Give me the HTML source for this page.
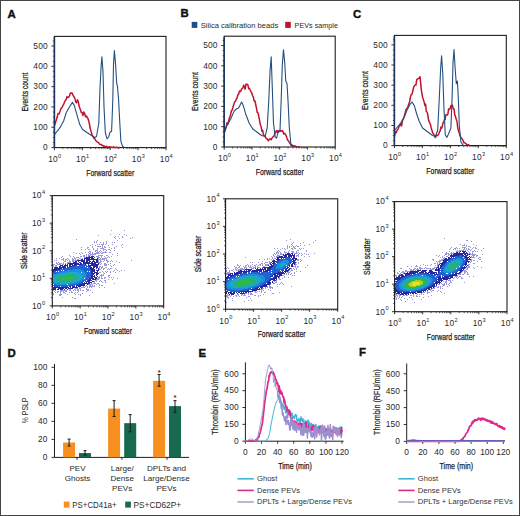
<!DOCTYPE html>
<html><head><meta charset="utf-8"><style>
html,body{margin:0;padding:0;background:#fff;}
svg{display:block;font-family:"Liberation Sans", sans-serif;}
</style></head><body>
<svg width="520" height="516" viewBox="0 0 520 516">
<defs><filter id="sb" x="-5%" y="-5%" width="110%" height="110%"><feGaussianBlur stdDeviation="0.35"/></filter></defs>
<rect width="520" height="516" fill="#fff"/>
<rect x="0.5" y="0.5" width="519" height="515" fill="none" stroke="#444" stroke-width="1"/>
<text x="7.4" y="17.5" font-size="11.4" font-weight="bold" fill="#111" stroke="#111" stroke-width="0.4">A</text>
<text x="180.6" y="17.4" font-size="11.4" font-weight="bold" fill="#111" stroke="#111" stroke-width="0.4">B</text>
<text x="353" y="17.5" font-size="11.4" font-weight="bold" fill="#111" stroke="#111" stroke-width="0.4">C</text>
<text x="7.6" y="356.6" font-size="11.4" font-weight="bold" fill="#111" stroke="#111" stroke-width="0.4">D</text>
<text x="198.5" y="356.5" font-size="11.4" font-weight="bold" fill="#111" stroke="#111" stroke-width="0.4">E</text>
<text x="359.1" y="356.3" font-size="11.4" font-weight="bold" fill="#111" stroke="#111" stroke-width="0.4">F</text>
<rect x="191.7" y="21.9" width="5.6" height="6" fill="#1b4f8a"/>
<text x="200.8" y="28.1" font-size="7.65" textLength="77.4" lengthAdjust="spacingAndGlyphs" fill="#2a2a2a">Silica calibration beads</text>
<rect x="285.2" y="21.9" width="5.6" height="6" fill="#c8102e"/>
<text x="294.6" y="28.1" font-size="7.65" textLength="43.4" lengthAdjust="spacingAndGlyphs" fill="#2a2a2a">PEVs sample</text>
<rect x="54.4" y="36.4" width="111.6" height="111.2" fill="none" stroke="#1e1e1e" stroke-width="1.1"/>
<line x1="51.4" y1="147.6" x2="54.4" y2="147.6" stroke="#1e1e1e" stroke-width="0.9"/>
<text x="47.8" y="150.4" font-size="8.4" text-anchor="end" fill="#2a2a2a" letter-spacing="0.15">0</text>
<line x1="52.8" y1="142.52" x2="54.4" y2="142.52" stroke="#1e1e1e" stroke-width="0.7"/>
<line x1="52.8" y1="137.44" x2="54.4" y2="137.44" stroke="#1e1e1e" stroke-width="0.7"/>
<line x1="52.8" y1="132.36" x2="54.4" y2="132.36" stroke="#1e1e1e" stroke-width="0.7"/>
<line x1="51.4" y1="127.28" x2="54.4" y2="127.28" stroke="#1e1e1e" stroke-width="0.9"/>
<text x="47.8" y="130.08" font-size="8.4" text-anchor="end" fill="#2a2a2a" letter-spacing="0.15">100</text>
<line x1="52.8" y1="122.2" x2="54.4" y2="122.2" stroke="#1e1e1e" stroke-width="0.7"/>
<line x1="52.8" y1="117.12" x2="54.4" y2="117.12" stroke="#1e1e1e" stroke-width="0.7"/>
<line x1="52.8" y1="112.04" x2="54.4" y2="112.04" stroke="#1e1e1e" stroke-width="0.7"/>
<line x1="51.4" y1="106.96" x2="54.4" y2="106.96" stroke="#1e1e1e" stroke-width="0.9"/>
<text x="47.8" y="109.76" font-size="8.4" text-anchor="end" fill="#2a2a2a" letter-spacing="0.15">200</text>
<line x1="52.8" y1="101.88" x2="54.4" y2="101.88" stroke="#1e1e1e" stroke-width="0.7"/>
<line x1="52.8" y1="96.8" x2="54.4" y2="96.8" stroke="#1e1e1e" stroke-width="0.7"/>
<line x1="52.8" y1="91.72" x2="54.4" y2="91.72" stroke="#1e1e1e" stroke-width="0.7"/>
<line x1="51.4" y1="86.64" x2="54.4" y2="86.64" stroke="#1e1e1e" stroke-width="0.9"/>
<text x="47.8" y="89.44" font-size="8.4" text-anchor="end" fill="#2a2a2a" letter-spacing="0.15">300</text>
<line x1="52.8" y1="81.56" x2="54.4" y2="81.56" stroke="#1e1e1e" stroke-width="0.7"/>
<line x1="52.8" y1="76.48" x2="54.4" y2="76.48" stroke="#1e1e1e" stroke-width="0.7"/>
<line x1="52.8" y1="71.4" x2="54.4" y2="71.4" stroke="#1e1e1e" stroke-width="0.7"/>
<line x1="51.4" y1="66.32" x2="54.4" y2="66.32" stroke="#1e1e1e" stroke-width="0.9"/>
<text x="47.8" y="69.12" font-size="8.4" text-anchor="end" fill="#2a2a2a" letter-spacing="0.15">400</text>
<line x1="52.8" y1="61.24" x2="54.4" y2="61.24" stroke="#1e1e1e" stroke-width="0.7"/>
<line x1="52.8" y1="56.16" x2="54.4" y2="56.16" stroke="#1e1e1e" stroke-width="0.7"/>
<line x1="52.8" y1="51.08" x2="54.4" y2="51.08" stroke="#1e1e1e" stroke-width="0.7"/>
<line x1="51.4" y1="46" x2="54.4" y2="46" stroke="#1e1e1e" stroke-width="0.9"/>
<text x="47.8" y="48.8" font-size="8.4" text-anchor="end" fill="#2a2a2a" letter-spacing="0.15">500</text>
<line x1="52.8" y1="40.92" x2="54.4" y2="40.92" stroke="#1e1e1e" stroke-width="0.7"/>
<line x1="54.4" y1="147.6" x2="54.4" y2="150.2" stroke="#1e1e1e" stroke-width="0.9"/>
<line x1="62.8" y1="147.6" x2="62.8" y2="149.1" stroke="#1e1e1e" stroke-width="0.7"/>
<line x1="67.71" y1="147.6" x2="67.71" y2="149.1" stroke="#1e1e1e" stroke-width="0.7"/>
<line x1="71.2" y1="147.6" x2="71.2" y2="149.1" stroke="#1e1e1e" stroke-width="0.7"/>
<line x1="73.9" y1="147.6" x2="73.9" y2="149.1" stroke="#1e1e1e" stroke-width="0.7"/>
<line x1="76.11" y1="147.6" x2="76.11" y2="149.1" stroke="#1e1e1e" stroke-width="0.7"/>
<line x1="77.98" y1="147.6" x2="77.98" y2="149.1" stroke="#1e1e1e" stroke-width="0.7"/>
<line x1="79.6" y1="147.6" x2="79.6" y2="149.1" stroke="#1e1e1e" stroke-width="0.7"/>
<line x1="81.02" y1="147.6" x2="81.02" y2="149.1" stroke="#1e1e1e" stroke-width="0.7"/>
<text x="53.1" y="161.9" font-size="8.4" text-anchor="middle" fill="#2a2a2a" letter-spacing="0.3">10</text>
<text x="58" y="157.6" font-size="5.6" fill="#2a2a2a">0</text>
<line x1="82.3" y1="147.6" x2="82.3" y2="150.2" stroke="#1e1e1e" stroke-width="0.9"/>
<line x1="90.7" y1="147.6" x2="90.7" y2="149.1" stroke="#1e1e1e" stroke-width="0.7"/>
<line x1="95.61" y1="147.6" x2="95.61" y2="149.1" stroke="#1e1e1e" stroke-width="0.7"/>
<line x1="99.1" y1="147.6" x2="99.1" y2="149.1" stroke="#1e1e1e" stroke-width="0.7"/>
<line x1="101.8" y1="147.6" x2="101.8" y2="149.1" stroke="#1e1e1e" stroke-width="0.7"/>
<line x1="104.01" y1="147.6" x2="104.01" y2="149.1" stroke="#1e1e1e" stroke-width="0.7"/>
<line x1="105.88" y1="147.6" x2="105.88" y2="149.1" stroke="#1e1e1e" stroke-width="0.7"/>
<line x1="107.5" y1="147.6" x2="107.5" y2="149.1" stroke="#1e1e1e" stroke-width="0.7"/>
<line x1="108.92" y1="147.6" x2="108.92" y2="149.1" stroke="#1e1e1e" stroke-width="0.7"/>
<text x="81" y="161.9" font-size="8.4" text-anchor="middle" fill="#2a2a2a" letter-spacing="0.3">10</text>
<text x="85.9" y="157.6" font-size="5.6" fill="#2a2a2a">1</text>
<line x1="110.2" y1="147.6" x2="110.2" y2="150.2" stroke="#1e1e1e" stroke-width="0.9"/>
<line x1="118.6" y1="147.6" x2="118.6" y2="149.1" stroke="#1e1e1e" stroke-width="0.7"/>
<line x1="123.51" y1="147.6" x2="123.51" y2="149.1" stroke="#1e1e1e" stroke-width="0.7"/>
<line x1="127" y1="147.6" x2="127" y2="149.1" stroke="#1e1e1e" stroke-width="0.7"/>
<line x1="129.7" y1="147.6" x2="129.7" y2="149.1" stroke="#1e1e1e" stroke-width="0.7"/>
<line x1="131.91" y1="147.6" x2="131.91" y2="149.1" stroke="#1e1e1e" stroke-width="0.7"/>
<line x1="133.78" y1="147.6" x2="133.78" y2="149.1" stroke="#1e1e1e" stroke-width="0.7"/>
<line x1="135.4" y1="147.6" x2="135.4" y2="149.1" stroke="#1e1e1e" stroke-width="0.7"/>
<line x1="136.82" y1="147.6" x2="136.82" y2="149.1" stroke="#1e1e1e" stroke-width="0.7"/>
<text x="108.9" y="161.9" font-size="8.4" text-anchor="middle" fill="#2a2a2a" letter-spacing="0.3">10</text>
<text x="113.8" y="157.6" font-size="5.6" fill="#2a2a2a">2</text>
<line x1="138.1" y1="147.6" x2="138.1" y2="150.2" stroke="#1e1e1e" stroke-width="0.9"/>
<line x1="146.5" y1="147.6" x2="146.5" y2="149.1" stroke="#1e1e1e" stroke-width="0.7"/>
<line x1="151.41" y1="147.6" x2="151.41" y2="149.1" stroke="#1e1e1e" stroke-width="0.7"/>
<line x1="154.9" y1="147.6" x2="154.9" y2="149.1" stroke="#1e1e1e" stroke-width="0.7"/>
<line x1="157.6" y1="147.6" x2="157.6" y2="149.1" stroke="#1e1e1e" stroke-width="0.7"/>
<line x1="159.81" y1="147.6" x2="159.81" y2="149.1" stroke="#1e1e1e" stroke-width="0.7"/>
<line x1="161.68" y1="147.6" x2="161.68" y2="149.1" stroke="#1e1e1e" stroke-width="0.7"/>
<line x1="163.3" y1="147.6" x2="163.3" y2="149.1" stroke="#1e1e1e" stroke-width="0.7"/>
<line x1="164.72" y1="147.6" x2="164.72" y2="149.1" stroke="#1e1e1e" stroke-width="0.7"/>
<text x="136.8" y="161.9" font-size="8.4" text-anchor="middle" fill="#2a2a2a" letter-spacing="0.3">10</text>
<text x="141.7" y="157.6" font-size="5.6" fill="#2a2a2a">3</text>
<line x1="166" y1="147.6" x2="166" y2="150.2" stroke="#1e1e1e" stroke-width="0.9"/>
<text x="164.7" y="161.9" font-size="8.4" text-anchor="middle" fill="#2a2a2a" letter-spacing="0.3">10</text>
<text x="169.6" y="157.6" font-size="5.6" fill="#2a2a2a">4</text>
<text x="110.2" y="175.8" font-size="9.4" text-anchor="middle" textLength="48" lengthAdjust="spacingAndGlyphs" fill="#222" stroke="#222" stroke-width="0.25">Forward scatter</text>
<text transform="translate(27.9,92) rotate(-90)" font-size="9.4" text-anchor="middle" textLength="39" lengthAdjust="spacingAndGlyphs" fill="#222" stroke="#222" stroke-width="0.25">Events count</text>
<polyline points="54.6,125.33 56,120.85 57,117.86 58,113.55 59,114.03 60,111.52 61,108.36 62,107.71 63,105.45 64,103.37 65,101.04 66,99.72 67,96.62 67.75,97.58 68.5,97.36 69.5,95.81 70.4,92.95 71.2,93.05 72,92.93 73,95.15 74,97.01 74.83,98.14 75.67,101.69 76.5,102.8 77.5,99.82 78.5,102.65 79.25,106.79 80,108.5 81.2,112.25 82.1,112.75 83,115.42 83.75,111.98 84.5,113.07 85.55,116.69 86.6,116.02 87.3,117.87 88,118.46 89.3,123.21 90,127.55 90.7,130.09 92,134.67 93,136.56 94,138.45 95.05,139.14 96.1,140.94 96.88,141.66 97.66,142.22 98.44,142.52 99.22,143.71 100,144.45 100.72,144.57 101.43,144.45 102.15,145.58 102.87,145.45 103.58,146.43 104.3,146.11 105.01,146.92 105.72,146.67 106.44,146.33 107.15,146.74 107.86,146.96 108.58,147.11 109.29,146.81 110,146.87 110.71,147.28 111.43,147.1 112.14,147.33 112.86,147.51 113.57,146.83 114.29,147.4 115,147.69 115.71,147.29 116.43,147.17 117.14,147.62 117.86,147.5 118.57,147.69 119.29,147.39 120,147.5" fill="none" stroke="#c0142e" stroke-width="1.5" stroke-linejoin="round"/>
<polyline points="54.6,134.3 58.1,130.2 60.9,126.1 63.6,121 66.3,112.5 69,107.8 72.4,102.4 74.4,105.8 77.1,115.3 79.9,124.8 82.6,129.5 86.6,132.2 90.7,135 94.8,137.5 96.5,136.5 98.8,123 100,88 101.2,64.9 101.9,56.7 103,71.9 104,106.7 105.3,132.3 107,138.8 108.6,137 110,132.3 111.6,131.2 112.8,99.8 113.5,64.9 114.4,50.5 115.6,64.9 116.7,83.5 117.4,85.8 118.6,99.8 119.8,123 120.9,141.6 122.6,146.3 124,147.4" fill="none" stroke="#24507f" stroke-width="1.1" stroke-linejoin="round"/>
<line x1="54.4" y1="37" x2="54.4" y2="147.6" stroke="#1c3560" stroke-width="1.6"/>
<rect x="224.2" y="36.2" width="111" height="110.8" fill="none" stroke="#1e1e1e" stroke-width="1.1"/>
<line x1="221.2" y1="147" x2="224.2" y2="147" stroke="#1e1e1e" stroke-width="0.9"/>
<text x="217.6" y="149.8" font-size="8.4" text-anchor="end" fill="#2a2a2a" letter-spacing="0.15">0</text>
<line x1="222.6" y1="141.93" x2="224.2" y2="141.93" stroke="#1e1e1e" stroke-width="0.7"/>
<line x1="222.6" y1="136.85" x2="224.2" y2="136.85" stroke="#1e1e1e" stroke-width="0.7"/>
<line x1="222.6" y1="131.78" x2="224.2" y2="131.78" stroke="#1e1e1e" stroke-width="0.7"/>
<line x1="221.2" y1="126.7" x2="224.2" y2="126.7" stroke="#1e1e1e" stroke-width="0.9"/>
<text x="217.6" y="129.5" font-size="8.4" text-anchor="end" fill="#2a2a2a" letter-spacing="0.15">100</text>
<line x1="222.6" y1="121.62" x2="224.2" y2="121.62" stroke="#1e1e1e" stroke-width="0.7"/>
<line x1="222.6" y1="116.55" x2="224.2" y2="116.55" stroke="#1e1e1e" stroke-width="0.7"/>
<line x1="222.6" y1="111.47" x2="224.2" y2="111.47" stroke="#1e1e1e" stroke-width="0.7"/>
<line x1="221.2" y1="106.4" x2="224.2" y2="106.4" stroke="#1e1e1e" stroke-width="0.9"/>
<text x="217.6" y="109.2" font-size="8.4" text-anchor="end" fill="#2a2a2a" letter-spacing="0.15">200</text>
<line x1="222.6" y1="101.32" x2="224.2" y2="101.32" stroke="#1e1e1e" stroke-width="0.7"/>
<line x1="222.6" y1="96.25" x2="224.2" y2="96.25" stroke="#1e1e1e" stroke-width="0.7"/>
<line x1="222.6" y1="91.17" x2="224.2" y2="91.17" stroke="#1e1e1e" stroke-width="0.7"/>
<line x1="221.2" y1="86.1" x2="224.2" y2="86.1" stroke="#1e1e1e" stroke-width="0.9"/>
<text x="217.6" y="88.9" font-size="8.4" text-anchor="end" fill="#2a2a2a" letter-spacing="0.15">300</text>
<line x1="222.6" y1="81.02" x2="224.2" y2="81.02" stroke="#1e1e1e" stroke-width="0.7"/>
<line x1="222.6" y1="75.95" x2="224.2" y2="75.95" stroke="#1e1e1e" stroke-width="0.7"/>
<line x1="222.6" y1="70.88" x2="224.2" y2="70.88" stroke="#1e1e1e" stroke-width="0.7"/>
<line x1="221.2" y1="65.8" x2="224.2" y2="65.8" stroke="#1e1e1e" stroke-width="0.9"/>
<text x="217.6" y="68.6" font-size="8.4" text-anchor="end" fill="#2a2a2a" letter-spacing="0.15">400</text>
<line x1="222.6" y1="60.72" x2="224.2" y2="60.72" stroke="#1e1e1e" stroke-width="0.7"/>
<line x1="222.6" y1="55.65" x2="224.2" y2="55.65" stroke="#1e1e1e" stroke-width="0.7"/>
<line x1="222.6" y1="50.57" x2="224.2" y2="50.57" stroke="#1e1e1e" stroke-width="0.7"/>
<line x1="221.2" y1="45.5" x2="224.2" y2="45.5" stroke="#1e1e1e" stroke-width="0.9"/>
<text x="217.6" y="48.3" font-size="8.4" text-anchor="end" fill="#2a2a2a" letter-spacing="0.15">500</text>
<line x1="222.6" y1="40.42" x2="224.2" y2="40.42" stroke="#1e1e1e" stroke-width="0.7"/>
<line x1="224.2" y1="147" x2="224.2" y2="149.6" stroke="#1e1e1e" stroke-width="0.9"/>
<line x1="232.55" y1="147" x2="232.55" y2="148.5" stroke="#1e1e1e" stroke-width="0.7"/>
<line x1="237.44" y1="147" x2="237.44" y2="148.5" stroke="#1e1e1e" stroke-width="0.7"/>
<line x1="240.91" y1="147" x2="240.91" y2="148.5" stroke="#1e1e1e" stroke-width="0.7"/>
<line x1="243.6" y1="147" x2="243.6" y2="148.5" stroke="#1e1e1e" stroke-width="0.7"/>
<line x1="245.79" y1="147" x2="245.79" y2="148.5" stroke="#1e1e1e" stroke-width="0.7"/>
<line x1="247.65" y1="147" x2="247.65" y2="148.5" stroke="#1e1e1e" stroke-width="0.7"/>
<line x1="249.26" y1="147" x2="249.26" y2="148.5" stroke="#1e1e1e" stroke-width="0.7"/>
<line x1="250.68" y1="147" x2="250.68" y2="148.5" stroke="#1e1e1e" stroke-width="0.7"/>
<text x="222.9" y="161.3" font-size="8.4" text-anchor="middle" fill="#2a2a2a" letter-spacing="0.3">10</text>
<text x="227.8" y="157" font-size="5.6" fill="#2a2a2a">0</text>
<line x1="251.95" y1="147" x2="251.95" y2="149.6" stroke="#1e1e1e" stroke-width="0.9"/>
<line x1="260.3" y1="147" x2="260.3" y2="148.5" stroke="#1e1e1e" stroke-width="0.7"/>
<line x1="265.19" y1="147" x2="265.19" y2="148.5" stroke="#1e1e1e" stroke-width="0.7"/>
<line x1="268.66" y1="147" x2="268.66" y2="148.5" stroke="#1e1e1e" stroke-width="0.7"/>
<line x1="271.35" y1="147" x2="271.35" y2="148.5" stroke="#1e1e1e" stroke-width="0.7"/>
<line x1="273.54" y1="147" x2="273.54" y2="148.5" stroke="#1e1e1e" stroke-width="0.7"/>
<line x1="275.4" y1="147" x2="275.4" y2="148.5" stroke="#1e1e1e" stroke-width="0.7"/>
<line x1="277.01" y1="147" x2="277.01" y2="148.5" stroke="#1e1e1e" stroke-width="0.7"/>
<line x1="278.43" y1="147" x2="278.43" y2="148.5" stroke="#1e1e1e" stroke-width="0.7"/>
<text x="250.65" y="161.3" font-size="8.4" text-anchor="middle" fill="#2a2a2a" letter-spacing="0.3">10</text>
<text x="255.55" y="157" font-size="5.6" fill="#2a2a2a">1</text>
<line x1="279.7" y1="147" x2="279.7" y2="149.6" stroke="#1e1e1e" stroke-width="0.9"/>
<line x1="288.05" y1="147" x2="288.05" y2="148.5" stroke="#1e1e1e" stroke-width="0.7"/>
<line x1="292.94" y1="147" x2="292.94" y2="148.5" stroke="#1e1e1e" stroke-width="0.7"/>
<line x1="296.41" y1="147" x2="296.41" y2="148.5" stroke="#1e1e1e" stroke-width="0.7"/>
<line x1="299.1" y1="147" x2="299.1" y2="148.5" stroke="#1e1e1e" stroke-width="0.7"/>
<line x1="301.29" y1="147" x2="301.29" y2="148.5" stroke="#1e1e1e" stroke-width="0.7"/>
<line x1="303.15" y1="147" x2="303.15" y2="148.5" stroke="#1e1e1e" stroke-width="0.7"/>
<line x1="304.76" y1="147" x2="304.76" y2="148.5" stroke="#1e1e1e" stroke-width="0.7"/>
<line x1="306.18" y1="147" x2="306.18" y2="148.5" stroke="#1e1e1e" stroke-width="0.7"/>
<text x="278.4" y="161.3" font-size="8.4" text-anchor="middle" fill="#2a2a2a" letter-spacing="0.3">10</text>
<text x="283.3" y="157" font-size="5.6" fill="#2a2a2a">2</text>
<line x1="307.45" y1="147" x2="307.45" y2="149.6" stroke="#1e1e1e" stroke-width="0.9"/>
<line x1="315.8" y1="147" x2="315.8" y2="148.5" stroke="#1e1e1e" stroke-width="0.7"/>
<line x1="320.69" y1="147" x2="320.69" y2="148.5" stroke="#1e1e1e" stroke-width="0.7"/>
<line x1="324.16" y1="147" x2="324.16" y2="148.5" stroke="#1e1e1e" stroke-width="0.7"/>
<line x1="326.85" y1="147" x2="326.85" y2="148.5" stroke="#1e1e1e" stroke-width="0.7"/>
<line x1="329.04" y1="147" x2="329.04" y2="148.5" stroke="#1e1e1e" stroke-width="0.7"/>
<line x1="330.9" y1="147" x2="330.9" y2="148.5" stroke="#1e1e1e" stroke-width="0.7"/>
<line x1="332.51" y1="147" x2="332.51" y2="148.5" stroke="#1e1e1e" stroke-width="0.7"/>
<line x1="333.93" y1="147" x2="333.93" y2="148.5" stroke="#1e1e1e" stroke-width="0.7"/>
<text x="306.15" y="161.3" font-size="8.4" text-anchor="middle" fill="#2a2a2a" letter-spacing="0.3">10</text>
<text x="311.05" y="157" font-size="5.6" fill="#2a2a2a">3</text>
<line x1="335.2" y1="147" x2="335.2" y2="149.6" stroke="#1e1e1e" stroke-width="0.9"/>
<text x="333.9" y="161.3" font-size="8.4" text-anchor="middle" fill="#2a2a2a" letter-spacing="0.3">10</text>
<text x="338.8" y="157" font-size="5.6" fill="#2a2a2a">4</text>
<text x="279.7" y="175.2" font-size="9.4" text-anchor="middle" textLength="48" lengthAdjust="spacingAndGlyphs" fill="#222" stroke="#222" stroke-width="0.25">Forward scatter</text>
<text transform="translate(197.7,91.6) rotate(-90)" font-size="9.4" text-anchor="middle" textLength="39" lengthAdjust="spacingAndGlyphs" fill="#222" stroke="#222" stroke-width="0.25">Events count</text>
<polyline points="224.4,132.45 225.27,129.42 226.13,127.06 227,122.68 227.77,124.58 228.53,121.77 229.3,118.06 230.03,116.78 230.77,113.78 231.5,110.36 232.33,109.96 233.17,106.22 234,103.99 234.77,101.6 235.53,101.39 236.3,98.87 237.07,98.06 237.83,94.85 238.6,94.17 239.55,91.02 240.5,91.68 241.3,89.57 242.1,88.57 242.87,87.92 243.63,85.11 244.4,86.94 245.2,89.13 246,84.13 246.95,84.26 247.9,84.83 248.67,88.71 249.43,88.18 250.2,90.04 251,91.71 251.8,93.19 252.6,95.48 253.37,97.21 254.13,100.9 254.9,100.66 255.67,104.28 256.43,107.79 257.2,112.31 257.97,112.84 258.73,116.04 259.5,120.13 260.3,124.74 261.1,126.68 261.9,131.14 262.67,130.4 263.43,134.75 264.2,136.56 264.9,135.48 265.6,137.31 266.3,138.73 267,138.66 267.7,139.94 268.4,140.83 269.1,139.48 269.8,139.12 270.5,138.8 271.2,139.72 271.9,138.25 272.6,137.34 273.3,136.46 274,136.1 274.7,133.89 275.55,132.45 276.4,130.64 277.25,132.54 278.1,130.56 278.8,131.92 279.5,130.77 280.2,130.3 280.9,131.46 281.6,131.14 282.3,130.62 283,131.4 283.7,134.01 284.4,133.32 285.1,133.83 285.87,135.23 286.63,136.89 287.4,139.87 288.1,140.4 288.8,141.19 289.5,142.71 290.2,143.51 290.9,145.18 291.62,145.76 292.35,145.17 293.07,146.25 293.8,145.65 294.52,146.15 295.25,146.02 295.97,146.43 296.7,146.71 297.52,146.66 298.35,146.67 299.18,146.76 300,147" fill="none" stroke="#c0142e" stroke-width="1.5" stroke-linejoin="round"/>
<polyline points="224.4,132.3 227,125.3 230.5,119.5 234,111.4 236.3,109 238.6,107.9 241.6,102.1 243.3,105.6 245.6,113.7 249.1,123 252.6,128.8 257.2,132.3 261.9,135.8 265.3,135.8 267.2,127.7 268.8,99.8 270,71.9 271.2,56.7 272.3,88.1 273.5,123 275.1,137 276.5,138.1 278.1,132.3 280,130.5 281.2,99.8 282.3,64.9 283.5,49.8 284.7,62.6 285.8,81.2 287,83.5 288.1,102.1 289.3,127.7 290.9,144 293.3,146.3 295,147" fill="none" stroke="#24507f" stroke-width="1.1" stroke-linejoin="round"/>
<line x1="224.2" y1="37" x2="224.2" y2="147" stroke="#1c3560" stroke-width="1.6"/>
<rect x="394.4" y="35.4" width="111.9" height="110.2" fill="none" stroke="#1e1e1e" stroke-width="1.1"/>
<line x1="391.4" y1="145.6" x2="394.4" y2="145.6" stroke="#1e1e1e" stroke-width="0.9"/>
<text x="387.8" y="148.4" font-size="8.4" text-anchor="end" fill="#2a2a2a" letter-spacing="0.15">0</text>
<line x1="392.8" y1="140.56" x2="394.4" y2="140.56" stroke="#1e1e1e" stroke-width="0.7"/>
<line x1="392.8" y1="135.53" x2="394.4" y2="135.53" stroke="#1e1e1e" stroke-width="0.7"/>
<line x1="392.8" y1="130.5" x2="394.4" y2="130.5" stroke="#1e1e1e" stroke-width="0.7"/>
<line x1="391.4" y1="125.46" x2="394.4" y2="125.46" stroke="#1e1e1e" stroke-width="0.9"/>
<text x="387.8" y="128.26" font-size="8.4" text-anchor="end" fill="#2a2a2a" letter-spacing="0.15">100</text>
<line x1="392.8" y1="120.42" x2="394.4" y2="120.42" stroke="#1e1e1e" stroke-width="0.7"/>
<line x1="392.8" y1="115.39" x2="394.4" y2="115.39" stroke="#1e1e1e" stroke-width="0.7"/>
<line x1="392.8" y1="110.35" x2="394.4" y2="110.35" stroke="#1e1e1e" stroke-width="0.7"/>
<line x1="391.4" y1="105.32" x2="394.4" y2="105.32" stroke="#1e1e1e" stroke-width="0.9"/>
<text x="387.8" y="108.12" font-size="8.4" text-anchor="end" fill="#2a2a2a" letter-spacing="0.15">200</text>
<line x1="392.8" y1="100.28" x2="394.4" y2="100.28" stroke="#1e1e1e" stroke-width="0.7"/>
<line x1="392.8" y1="95.25" x2="394.4" y2="95.25" stroke="#1e1e1e" stroke-width="0.7"/>
<line x1="392.8" y1="90.22" x2="394.4" y2="90.22" stroke="#1e1e1e" stroke-width="0.7"/>
<line x1="391.4" y1="85.18" x2="394.4" y2="85.18" stroke="#1e1e1e" stroke-width="0.9"/>
<text x="387.8" y="87.98" font-size="8.4" text-anchor="end" fill="#2a2a2a" letter-spacing="0.15">300</text>
<line x1="392.8" y1="80.15" x2="394.4" y2="80.15" stroke="#1e1e1e" stroke-width="0.7"/>
<line x1="392.8" y1="75.11" x2="394.4" y2="75.11" stroke="#1e1e1e" stroke-width="0.7"/>
<line x1="392.8" y1="70.08" x2="394.4" y2="70.08" stroke="#1e1e1e" stroke-width="0.7"/>
<line x1="391.4" y1="65.04" x2="394.4" y2="65.04" stroke="#1e1e1e" stroke-width="0.9"/>
<text x="387.8" y="67.84" font-size="8.4" text-anchor="end" fill="#2a2a2a" letter-spacing="0.15">400</text>
<line x1="392.8" y1="60.01" x2="394.4" y2="60.01" stroke="#1e1e1e" stroke-width="0.7"/>
<line x1="392.8" y1="54.97" x2="394.4" y2="54.97" stroke="#1e1e1e" stroke-width="0.7"/>
<line x1="392.8" y1="49.94" x2="394.4" y2="49.94" stroke="#1e1e1e" stroke-width="0.7"/>
<line x1="391.4" y1="44.9" x2="394.4" y2="44.9" stroke="#1e1e1e" stroke-width="0.9"/>
<text x="387.8" y="47.7" font-size="8.4" text-anchor="end" fill="#2a2a2a" letter-spacing="0.15">500</text>
<line x1="392.8" y1="39.87" x2="394.4" y2="39.87" stroke="#1e1e1e" stroke-width="0.7"/>
<line x1="394.4" y1="145.6" x2="394.4" y2="148.2" stroke="#1e1e1e" stroke-width="0.9"/>
<line x1="402.82" y1="145.6" x2="402.82" y2="147.1" stroke="#1e1e1e" stroke-width="0.7"/>
<line x1="407.75" y1="145.6" x2="407.75" y2="147.1" stroke="#1e1e1e" stroke-width="0.7"/>
<line x1="411.24" y1="145.6" x2="411.24" y2="147.1" stroke="#1e1e1e" stroke-width="0.7"/>
<line x1="413.95" y1="145.6" x2="413.95" y2="147.1" stroke="#1e1e1e" stroke-width="0.7"/>
<line x1="416.17" y1="145.6" x2="416.17" y2="147.1" stroke="#1e1e1e" stroke-width="0.7"/>
<line x1="418.04" y1="145.6" x2="418.04" y2="147.1" stroke="#1e1e1e" stroke-width="0.7"/>
<line x1="419.66" y1="145.6" x2="419.66" y2="147.1" stroke="#1e1e1e" stroke-width="0.7"/>
<line x1="421.09" y1="145.6" x2="421.09" y2="147.1" stroke="#1e1e1e" stroke-width="0.7"/>
<text x="393.1" y="159.9" font-size="8.4" text-anchor="middle" fill="#2a2a2a" letter-spacing="0.3">10</text>
<text x="398" y="155.6" font-size="5.6" fill="#2a2a2a">0</text>
<line x1="422.38" y1="145.6" x2="422.38" y2="148.2" stroke="#1e1e1e" stroke-width="0.9"/>
<line x1="430.8" y1="145.6" x2="430.8" y2="147.1" stroke="#1e1e1e" stroke-width="0.7"/>
<line x1="435.72" y1="145.6" x2="435.72" y2="147.1" stroke="#1e1e1e" stroke-width="0.7"/>
<line x1="439.22" y1="145.6" x2="439.22" y2="147.1" stroke="#1e1e1e" stroke-width="0.7"/>
<line x1="441.93" y1="145.6" x2="441.93" y2="147.1" stroke="#1e1e1e" stroke-width="0.7"/>
<line x1="444.14" y1="145.6" x2="444.14" y2="147.1" stroke="#1e1e1e" stroke-width="0.7"/>
<line x1="446.02" y1="145.6" x2="446.02" y2="147.1" stroke="#1e1e1e" stroke-width="0.7"/>
<line x1="447.64" y1="145.6" x2="447.64" y2="147.1" stroke="#1e1e1e" stroke-width="0.7"/>
<line x1="449.07" y1="145.6" x2="449.07" y2="147.1" stroke="#1e1e1e" stroke-width="0.7"/>
<text x="421.07" y="159.9" font-size="8.4" text-anchor="middle" fill="#2a2a2a" letter-spacing="0.3">10</text>
<text x="425.98" y="155.6" font-size="5.6" fill="#2a2a2a">1</text>
<line x1="450.35" y1="145.6" x2="450.35" y2="148.2" stroke="#1e1e1e" stroke-width="0.9"/>
<line x1="458.77" y1="145.6" x2="458.77" y2="147.1" stroke="#1e1e1e" stroke-width="0.7"/>
<line x1="463.7" y1="145.6" x2="463.7" y2="147.1" stroke="#1e1e1e" stroke-width="0.7"/>
<line x1="467.19" y1="145.6" x2="467.19" y2="147.1" stroke="#1e1e1e" stroke-width="0.7"/>
<line x1="469.9" y1="145.6" x2="469.9" y2="147.1" stroke="#1e1e1e" stroke-width="0.7"/>
<line x1="472.12" y1="145.6" x2="472.12" y2="147.1" stroke="#1e1e1e" stroke-width="0.7"/>
<line x1="473.99" y1="145.6" x2="473.99" y2="147.1" stroke="#1e1e1e" stroke-width="0.7"/>
<line x1="475.61" y1="145.6" x2="475.61" y2="147.1" stroke="#1e1e1e" stroke-width="0.7"/>
<line x1="477.04" y1="145.6" x2="477.04" y2="147.1" stroke="#1e1e1e" stroke-width="0.7"/>
<text x="449.05" y="159.9" font-size="8.4" text-anchor="middle" fill="#2a2a2a" letter-spacing="0.3">10</text>
<text x="453.95" y="155.6" font-size="5.6" fill="#2a2a2a">2</text>
<line x1="478.32" y1="145.6" x2="478.32" y2="148.2" stroke="#1e1e1e" stroke-width="0.9"/>
<line x1="486.75" y1="145.6" x2="486.75" y2="147.1" stroke="#1e1e1e" stroke-width="0.7"/>
<line x1="491.67" y1="145.6" x2="491.67" y2="147.1" stroke="#1e1e1e" stroke-width="0.7"/>
<line x1="495.17" y1="145.6" x2="495.17" y2="147.1" stroke="#1e1e1e" stroke-width="0.7"/>
<line x1="497.88" y1="145.6" x2="497.88" y2="147.1" stroke="#1e1e1e" stroke-width="0.7"/>
<line x1="500.09" y1="145.6" x2="500.09" y2="147.1" stroke="#1e1e1e" stroke-width="0.7"/>
<line x1="501.97" y1="145.6" x2="501.97" y2="147.1" stroke="#1e1e1e" stroke-width="0.7"/>
<line x1="503.59" y1="145.6" x2="503.59" y2="147.1" stroke="#1e1e1e" stroke-width="0.7"/>
<line x1="505.02" y1="145.6" x2="505.02" y2="147.1" stroke="#1e1e1e" stroke-width="0.7"/>
<text x="477.02" y="159.9" font-size="8.4" text-anchor="middle" fill="#2a2a2a" letter-spacing="0.3">10</text>
<text x="481.93" y="155.6" font-size="5.6" fill="#2a2a2a">3</text>
<line x1="506.3" y1="145.6" x2="506.3" y2="148.2" stroke="#1e1e1e" stroke-width="0.9"/>
<text x="505" y="159.9" font-size="8.4" text-anchor="middle" fill="#2a2a2a" letter-spacing="0.3">10</text>
<text x="509.9" y="155.6" font-size="5.6" fill="#2a2a2a">4</text>
<text x="450.35" y="173.8" font-size="9.4" text-anchor="middle" textLength="48" lengthAdjust="spacingAndGlyphs" fill="#222" stroke="#222" stroke-width="0.25">Forward scatter</text>
<text transform="translate(367.9,90.5) rotate(-90)" font-size="9.4" text-anchor="middle" textLength="39" lengthAdjust="spacingAndGlyphs" fill="#222" stroke="#222" stroke-width="0.25">Events count</text>
<polyline points="394.6,136.47 395.4,131.74 396.2,132.66 397,130.54 397.75,129.37 398.5,128.31 399.25,125.46 400,125.79 400.8,123.49 401.6,125.81 402.4,121.12 403.2,118.84 404,117.21 405,113.52 406,109.8 406.87,108.44 407.73,107.38 408.6,104.41 409.55,102.07 410.5,96.74 411.3,94.53 412.1,94.12 412.87,90.79 413.63,87.35 414.4,85.84 415.17,84.95 415.93,85.08 416.7,79.9 418,78.63 419.1,78.33 420,76.66 421.4,90.4 422.6,97.17 423.37,99.65 424.13,101.92 424.9,105.52 425.6,104.14 426.3,111.48 427,112.03 427.7,114.11 428.4,118.98 429.1,121.72 429.8,122.92 430.5,124.68 431.2,128 431.9,130.26 432.75,133.04 433.6,134.11 434.45,135.31 435.3,137.55 436,136.1 436.7,135.03 437.4,135.54 438.1,134.99 438.8,133.84 439.5,131.79 440.2,130.99 440.9,127.09 441.6,128.21 442.3,126.45 443,122.66 443.7,122.46 444.4,119.64 445.1,119.58 445.8,114.85 446.5,114.62 447.2,114.98 447.9,114.09 448.6,108.95 449.3,109.42 450.07,108.62 450.83,105.74 451.6,106.65 452.4,105.04 453.2,108.65 454,108.79 454.77,114.89 455.53,116.64 456.3,119.62 457.07,121.8 457.83,128.37 458.6,130.92 459.37,133.22 460.13,135.79 460.9,137.53 461.6,138.06 462.3,139.15 463,140.34 463.7,142.63 464.4,142.44 465.18,143.23 465.97,143.73 466.75,144.34 467.53,144.84 468.32,144.61 469.1,145.4" fill="none" stroke="#c0142e" stroke-width="1.5" stroke-linejoin="round"/>
<polyline points="394.6,130.3 397,127.5 400.5,123.3 404,117.5 407.4,109.4 409.8,104.7 412.1,102 414.4,105.9 416.7,114 419.1,121 422.6,128 427.2,131.5 431.9,135 435.3,136.8 437.7,130.3 439.3,97.8 440.7,67.5 441.6,55.9 442.8,74.5 444,109.4 445.3,135 447,137.3 448.6,133.8 450.9,128 452.1,97.8 453,62.9 454,49.6 455.1,67.5 456.3,83.8 457.4,81 458.4,100.1 459.3,125.7 460.9,142 463.3,145.4 465,145.6" fill="none" stroke="#24507f" stroke-width="1.1" stroke-linejoin="round"/>
<line x1="394.4" y1="36" x2="394.4" y2="145.6" stroke="#1c3560" stroke-width="1.6"/>
<g filter="url(#sb)">
<path d="M111 230h1v1h-1zM124 230h1v1h-1zM110 234h1v1h-1zM119 234h1v1h-1zM124 234h1v1h-1zM98 235h1v1h-1zM126 235h1v1h-1zM115 236h1v1h-1zM118 236h1v1h-1zM122 236h1v1h-1zM114 237h1v1h-1zM122 237h1v1h-1zM132 237h1v1h-1zM115 238h1v1h-1zM119 238h1v1h-1zM130 238h1v1h-1zM76 239h1v1h-1zM97 240h1v1h-1zM117 240h1v1h-1zM94 241h1v1h-1zM96 241h1v1h-1zM106 241h1v1h-1zM94 242h1v1h-1zM96 242h1v1h-1zM100 242h1v1h-1zM103 242h1v1h-1zM106 242h1v1h-1zM112 242h1v1h-1zM114 242h1v1h-1zM103 243h1v1h-1zM106 243h1v1h-1zM92 244h1v1h-1zM97 244h1v1h-1zM99 244h1v1h-1zM101 244h3v1h-3zM105 244h1v1h-1zM112 244h1v1h-1zM122 244h1v1h-1zM90 245h1v1h-1zM95 245h1v1h-1zM102 245h1v1h-1zM108 245h1v1h-1zM121 245h1v1h-1zM92 246h1v1h-1zM97 246h4v1h-4zM102 246h1v1h-1zM104 246h1v1h-1zM116 246h1v1h-1zM81 247h1v1h-1zM87 247h2v1h-2zM92 247h1v1h-1zM102 247h1v1h-1zM104 247h2v1h-2zM109 247h1v1h-1zM114 247h1v1h-1zM122 247h1v1h-1zM87 248h1v1h-1zM93 248h1v1h-1zM97 248h1v1h-1zM100 248h4v1h-4zM111 248h1v1h-1zM114 248h1v1h-1zM81 249h1v1h-1zM85 249h1v1h-1zM88 249h2v1h-2zM93 249h1v1h-1zM97 249h1v1h-1zM103 249h3v1h-3zM108 249h2v1h-2zM95 250h3v1h-3zM100 250h1v1h-1zM103 250h1v1h-1zM106 250h1v1h-1zM110 250h1v1h-1zM114 250h1v1h-1zM89 251h2v1h-2zM95 251h1v1h-1zM97 251h1v1h-1zM99 251h1v1h-1zM101 251h1v1h-1zM105 251h1v1h-1zM73 252h1v1h-1zM81 252h1v1h-1zM85 252h1v1h-1zM88 252h1v1h-1zM90 252h1v1h-1zM92 252h1v1h-1zM96 252h3v1h-3zM100 252h1v1h-1zM102 252h5v1h-5zM109 252h2v1h-2zM76 253h1v1h-1zM79 253h1v1h-1zM82 253h1v1h-1zM89 253h2v1h-2zM92 253h1v1h-1zM94 253h6v1h-6zM101 253h2v1h-2zM117 253h1v1h-1zM80 254h1v1h-1zM86 254h1v1h-1zM88 254h1v1h-1zM90 254h6v1h-6zM112 254h1v1h-1zM69 255h1v1h-1zM83 255h2v1h-2zM86 255h1v1h-1zM88 255h3v1h-3zM92 255h1v1h-1zM98 255h5v1h-5zM106 255h2v1h-2zM117 255h1v1h-1zM62 256h1v1h-1zM70 256h1v1h-1zM73 256h1v1h-1zM80 256h2v1h-2zM83 256h2v1h-2zM86 256h1v1h-1zM88 256h1v1h-1zM96 256h3v1h-3zM101 256h1v1h-1zM104 256h1v1h-1zM108 256h1v1h-1zM111 256h1v1h-1zM61 257h1v1h-1zM74 257h1v1h-1zM76 257h3v1h-3zM84 257h2v1h-2zM97 257h3v1h-3zM101 257h1v1h-1zM105 257h1v1h-1zM107 257h1v1h-1zM109 257h1v1h-1zM56 258h1v1h-1zM59 258h1v1h-1zM63 258h1v1h-1zM67 258h1v1h-1zM72 258h1v1h-1zM74 258h2v1h-2zM79 258h2v1h-2zM82 258h1v1h-1zM98 258h1v1h-1zM100 258h1v1h-1zM102 258h5v1h-5zM61 259h3v1h-3zM65 259h2v1h-2zM68 259h1v1h-1zM72 259h2v1h-2zM75 259h1v1h-1zM77 259h2v1h-2zM98 259h7v1h-7zM106 259h1v1h-1zM54 260h1v1h-1zM56 260h1v1h-1zM63 260h1v1h-1zM65 260h1v1h-1zM67 260h1v1h-1zM69 260h1v1h-1zM72 260h5v1h-5zM98 260h1v1h-1zM100 260h1v1h-1zM104 260h1v1h-1zM106 260h2v1h-2zM111 260h1v1h-1zM131 260h1v1h-1zM64 261h2v1h-2zM69 261h2v1h-2zM72 261h2v1h-2zM98 261h1v1h-1zM100 261h2v1h-2zM103 261h1v1h-1zM107 261h2v1h-2zM110 261h1v1h-1zM112 261h1v1h-1zM116 261h1v1h-1zM56 262h1v1h-1zM58 262h1v1h-1zM63 262h1v1h-1zM67 262h4v1h-4zM98 262h3v1h-3zM107 262h1v1h-1zM119 262h1v1h-1zM56 263h2v1h-2zM59 263h3v1h-3zM63 263h1v1h-1zM65 263h1v1h-1zM67 263h1v1h-1zM99 263h1v1h-1zM101 263h1v1h-1zM104 263h2v1h-2zM110 263h1v1h-1zM52 264h3v1h-3zM57 264h4v1h-4zM62 264h2v1h-2zM100 264h1v1h-1zM104 264h3v1h-3zM108 264h1v1h-1zM114 264h1v1h-1zM52 265h2v1h-2zM55 265h2v1h-2zM104 265h3v1h-3zM110 265h1v1h-1zM113 265h1v1h-1zM53 266h1v1h-1zM55 266h2v1h-2zM99 266h2v1h-2zM102 266h1v1h-1zM111 266h1v1h-1zM52 267h1v1h-1zM99 267h1v1h-1zM101 267h2v1h-2zM105 267h2v1h-2zM99 268h1v1h-1zM101 268h1v1h-1zM103 268h2v1h-2zM108 268h1v1h-1zM110 268h2v1h-2zM115 268h1v1h-1zM99 269h2v1h-2zM103 269h1v1h-1zM107 269h1v1h-1zM109 269h1v1h-1zM116 269h1v1h-1zM114 270h1v1h-1zM117 270h1v1h-1zM121 270h1v1h-1zM124 270h1v1h-1zM102 271h1v1h-1zM105 271h1v1h-1zM107 271h1v1h-1zM110 271h1v1h-1zM113 271h1v1h-1zM119 271h1v1h-1zM99 272h2v1h-2zM103 272h1v1h-1zM106 272h1v1h-1zM110 272h1v1h-1zM115 272h1v1h-1zM104 273h1v1h-1zM101 274h1v1h-1zM103 274h1v1h-1zM100 275h4v1h-4zM108 275h2v1h-2zM99 276h1v1h-1zM101 276h1v1h-1zM108 276h1v1h-1zM98 277h2v1h-2zM101 277h1v1h-1zM104 277h2v1h-2zM109 277h1v1h-1zM111 277h1v1h-1zM113 277h1v1h-1zM97 278h3v1h-3zM101 278h2v1h-2zM104 278h1v1h-1zM117 278h1v1h-1zM96 279h3v1h-3zM108 279h1v1h-1zM112 279h1v1h-1zM95 280h2v1h-2zM100 280h1v1h-1zM104 280h2v1h-2zM94 281h1v1h-1zM96 281h1v1h-1zM99 281h1v1h-1zM101 281h1v1h-1zM105 281h1v1h-1zM94 282h1v1h-1zM102 282h1v1h-1zM105 282h1v1h-1zM91 283h1v1h-1zM93 283h3v1h-3zM97 283h2v1h-2zM114 283h1v1h-1zM88 284h5v1h-5zM96 284h1v1h-1zM99 284h1v1h-1zM86 285h1v1h-1zM89 285h2v1h-2zM92 285h1v1h-1zM94 285h1v1h-1zM99 285h1v1h-1zM101 285h2v1h-2zM83 286h1v1h-1zM85 286h1v1h-1zM87 286h1v1h-1zM89 286h6v1h-6zM79 287h1v1h-1zM81 287h4v1h-4zM87 287h1v1h-1zM89 287h1v1h-1zM91 287h1v1h-1zM99 287h1v1h-1zM104 287h1v1h-1zM75 288h3v1h-3zM79 288h2v1h-2zM86 288h1v1h-1zM69 289h2v1h-2zM74 289h2v1h-2zM77 289h2v1h-2zM80 289h1v1h-1zM86 289h3v1h-3zM52 290h2v1h-2zM55 290h1v1h-1zM60 290h7v1h-7zM69 290h2v1h-2zM73 290h1v1h-1zM75 290h1v1h-1zM77 290h2v1h-2zM80 290h1v1h-1zM82 290h2v1h-2zM87 290h2v1h-2zM90 290h1v1h-1zM54 291h1v1h-1zM57 291h2v1h-2zM60 291h2v1h-2zM63 291h1v1h-1zM65 291h2v1h-2zM71 291h1v1h-1zM78 291h1v1h-1zM86 291h1v1h-1zM55 292h1v1h-1zM57 292h1v1h-1zM60 292h1v1h-1zM63 292h2v1h-2zM69 292h1v1h-1zM71 292h2v1h-2zM75 292h1v1h-1zM77 292h1v1h-1zM92 292h1v1h-1zM53 293h1v1h-1zM60 293h1v1h-1zM65 293h1v1h-1zM74 293h1v1h-1zM82 293h1v1h-1zM53 294h1v1h-1zM59 294h3v1h-3zM67 294h1v1h-1zM75 294h1v1h-1zM78 294h1v1h-1zM80 294h1v1h-1zM59 295h2v1h-2zM80 295h1v1h-1zM89 295h1v1h-1zM62 297h1v1h-1zM72 297h1v1h-1zM74 298h2v1h-2zM52 302h1v1h-1z" fill="#3a34b0" fill-opacity="0.5"/>
<path d="M89 256h1v1h-1zM91 256h3v1h-3zM86 257h7v1h-7zM94 257h1v1h-1zM84 258h6v1h-6zM91 258h3v1h-3zM97 258h1v1h-1zM81 259h2v1h-2zM84 259h1v1h-1zM86 259h12v1h-12zM77 260h8v1h-8zM86 260h4v1h-4zM93 260h1v1h-1zM96 260h2v1h-2zM75 261h2v1h-2zM78 261h1v1h-1zM81 261h4v1h-4zM86 261h2v1h-2zM89 261h2v1h-2zM92 261h3v1h-3zM96 261h2v1h-2zM73 262h4v1h-4zM79 262h2v1h-2zM83 262h7v1h-7zM91 262h2v1h-2zM94 262h4v1h-4zM68 263h11v1h-11zM80 263h2v1h-2zM83 263h13v1h-13zM98 263h1v1h-1zM65 264h1v1h-1zM67 264h1v1h-1zM69 264h4v1h-4zM74 264h8v1h-8zM85 264h1v1h-1zM88 264h1v1h-1zM91 264h8v1h-8zM60 265h3v1h-3zM64 265h4v1h-4zM69 265h2v1h-2zM72 265h4v1h-4zM88 265h10v1h-10zM59 266h2v1h-2zM62 266h4v1h-4zM67 266h1v1h-1zM69 266h3v1h-3zM89 266h2v1h-2zM93 266h5v1h-5zM54 267h4v1h-4zM59 267h7v1h-7zM67 267h1v1h-1zM90 267h2v1h-2zM93 267h2v1h-2zM96 267h2v1h-2zM52 268h1v1h-1zM54 268h8v1h-8zM63 268h1v1h-1zM90 268h4v1h-4zM96 268h1v1h-1zM98 268h1v1h-1zM52 269h8v1h-8zM90 269h5v1h-5zM98 269h1v1h-1zM52 270h5v1h-5zM91 270h4v1h-4zM96 270h3v1h-3zM52 271h2v1h-2zM91 271h4v1h-4zM97 271h1v1h-1zM91 272h2v1h-2zM94 272h4v1h-4zM91 273h4v1h-4zM96 273h3v1h-3zM92 274h2v1h-2zM96 274h2v1h-2zM91 275h2v1h-2zM94 275h1v1h-1zM96 275h1v1h-1zM91 276h4v1h-4zM97 276h1v1h-1zM91 277h2v1h-2zM94 277h3v1h-3zM90 278h4v1h-4zM95 278h2v1h-2zM89 279h2v1h-2zM92 279h4v1h-4zM88 280h4v1h-4zM87 281h3v1h-3zM92 281h2v1h-2zM86 282h1v1h-1zM88 282h4v1h-4zM82 283h8v1h-8zM79 284h6v1h-6zM87 284h1v1h-1zM76 285h9v1h-9zM52 286h1v1h-1zM54 286h1v1h-1zM69 286h2v1h-2zM72 286h3v1h-3zM76 286h1v1h-1zM78 286h3v1h-3zM53 287h16v1h-16zM70 287h1v1h-1zM72 287h6v1h-6zM53 288h3v1h-3zM58 288h6v1h-6zM65 288h2v1h-2zM68 288h5v1h-5zM52 289h4v1h-4zM57 289h2v1h-2zM60 289h3v1h-3zM64 289h1v1h-1zM67 289h1v1h-1z" fill="#2828a0" fill-opacity="1"/>
<path d="M82 264h3v1h-3zM76 265h1v1h-1zM79 265h8v1h-8zM72 266h13v1h-13zM86 266h3v1h-3zM68 267h19v1h-19zM88 267h2v1h-2zM64 268h26v1h-26zM60 269h13v1h-13zM81 269h9v1h-9zM57 270h4v1h-4zM62 270h1v1h-1zM64 270h3v1h-3zM83 270h8v1h-8zM54 271h2v1h-2zM57 271h1v1h-1zM59 271h3v1h-3zM84 271h3v1h-3zM88 271h1v1h-1zM90 271h1v1h-1zM52 272h7v1h-7zM85 272h6v1h-6zM52 273h4v1h-4zM86 273h5v1h-5zM52 274h1v1h-1zM86 274h6v1h-6zM86 275h5v1h-5zM86 276h5v1h-5zM86 277h5v1h-5zM86 278h4v1h-4zM85 279h4v1h-4zM83 280h3v1h-3zM87 280h1v1h-1zM81 281h3v1h-3zM85 281h2v1h-2zM79 282h4v1h-4zM84 282h1v1h-1zM76 283h6v1h-6zM52 284h1v1h-1zM54 284h2v1h-2zM70 284h9v1h-9zM52 285h23v1h-23zM55 286h5v1h-5zM61 286h7v1h-7z" fill="#2062d0" fill-opacity="1"/>
<path d="M73 269h8v1h-8zM67 270h16v1h-16zM62 271h22v1h-22zM59 272h8v1h-8zM78 272h3v1h-3zM82 272h3v1h-3zM56 273h6v1h-6zM80 273h6v1h-6zM53 274h5v1h-5zM82 274h4v1h-4zM52 275h3v1h-3zM82 275h4v1h-4zM52 276h1v1h-1zM83 276h3v1h-3zM82 277h4v1h-4zM82 278h2v1h-2zM85 278h1v1h-1zM81 279h4v1h-4zM79 280h4v1h-4zM77 281h4v1h-4zM52 282h3v1h-3zM74 282h5v1h-5zM52 283h8v1h-8zM68 283h8v1h-8zM56 284h11v1h-11zM68 284h2v1h-2z" fill="#1e8ede" fill-opacity="1"/>
<path d="M67 272h11v1h-11zM62 273h18v1h-18zM58 274h8v1h-8zM74 274h8v1h-8zM55 275h6v1h-6zM77 275h5v1h-5zM53 276h5v1h-5zM78 276h5v1h-5zM52 277h5v1h-5zM78 277h4v1h-4zM52 278h4v1h-4zM77 278h5v1h-5zM52 279h4v1h-4zM76 279h5v1h-5zM52 280h4v1h-4zM74 280h5v1h-5zM52 281h7v1h-7zM71 281h6v1h-6zM55 282h19v1h-19zM60 283h8v1h-8z" fill="#1fa8c8" fill-opacity="1"/>
<path d="M66 274h8v1h-8zM61 275h16v1h-16zM58 276h7v1h-7zM71 276h7v1h-7zM57 277h5v1h-5zM73 277h5v1h-5zM56 278h4v1h-4zM73 278h4v1h-4zM56 279h5v1h-5zM71 279h5v1h-5zM56 280h8v1h-8zM66 280h8v1h-8zM59 281h12v1h-12z" fill="#20b080" fill-opacity="1"/>
<path d="M65 276h6v1h-6zM62 277h11v1h-11zM60 278h13v1h-13zM61 279h10v1h-10zM64 280h2v1h-2z" fill="#30b848" fill-opacity="1"/>
</g>
<rect x="52.3" y="195.6" width="111.4" height="110.3" fill="none" stroke="#1e1e1e" stroke-width="1.1"/>
<line x1="52.3" y1="305.9" x2="52.3" y2="308.5" stroke="#1e1e1e" stroke-width="0.9"/>
<line x1="60.68" y1="305.9" x2="60.68" y2="307.4" stroke="#1e1e1e" stroke-width="0.7"/>
<line x1="65.59" y1="305.9" x2="65.59" y2="307.4" stroke="#1e1e1e" stroke-width="0.7"/>
<line x1="69.07" y1="305.9" x2="69.07" y2="307.4" stroke="#1e1e1e" stroke-width="0.7"/>
<line x1="71.77" y1="305.9" x2="71.77" y2="307.4" stroke="#1e1e1e" stroke-width="0.7"/>
<line x1="73.97" y1="305.9" x2="73.97" y2="307.4" stroke="#1e1e1e" stroke-width="0.7"/>
<line x1="75.84" y1="305.9" x2="75.84" y2="307.4" stroke="#1e1e1e" stroke-width="0.7"/>
<line x1="77.45" y1="305.9" x2="77.45" y2="307.4" stroke="#1e1e1e" stroke-width="0.7"/>
<line x1="78.88" y1="305.9" x2="78.88" y2="307.4" stroke="#1e1e1e" stroke-width="0.7"/>
<text x="51" y="320.2" font-size="8.4" text-anchor="middle" fill="#2a2a2a" letter-spacing="0.3">10</text>
<text x="55.9" y="315.9" font-size="5.6" fill="#2a2a2a">0</text>
<line x1="80.15" y1="305.9" x2="80.15" y2="308.5" stroke="#1e1e1e" stroke-width="0.9"/>
<line x1="88.53" y1="305.9" x2="88.53" y2="307.4" stroke="#1e1e1e" stroke-width="0.7"/>
<line x1="93.44" y1="305.9" x2="93.44" y2="307.4" stroke="#1e1e1e" stroke-width="0.7"/>
<line x1="96.92" y1="305.9" x2="96.92" y2="307.4" stroke="#1e1e1e" stroke-width="0.7"/>
<line x1="99.62" y1="305.9" x2="99.62" y2="307.4" stroke="#1e1e1e" stroke-width="0.7"/>
<line x1="101.82" y1="305.9" x2="101.82" y2="307.4" stroke="#1e1e1e" stroke-width="0.7"/>
<line x1="103.69" y1="305.9" x2="103.69" y2="307.4" stroke="#1e1e1e" stroke-width="0.7"/>
<line x1="105.3" y1="305.9" x2="105.3" y2="307.4" stroke="#1e1e1e" stroke-width="0.7"/>
<line x1="106.73" y1="305.9" x2="106.73" y2="307.4" stroke="#1e1e1e" stroke-width="0.7"/>
<text x="78.85" y="320.2" font-size="8.4" text-anchor="middle" fill="#2a2a2a" letter-spacing="0.3">10</text>
<text x="83.75" y="315.9" font-size="5.6" fill="#2a2a2a">1</text>
<line x1="108" y1="305.9" x2="108" y2="308.5" stroke="#1e1e1e" stroke-width="0.9"/>
<line x1="116.38" y1="305.9" x2="116.38" y2="307.4" stroke="#1e1e1e" stroke-width="0.7"/>
<line x1="121.29" y1="305.9" x2="121.29" y2="307.4" stroke="#1e1e1e" stroke-width="0.7"/>
<line x1="124.77" y1="305.9" x2="124.77" y2="307.4" stroke="#1e1e1e" stroke-width="0.7"/>
<line x1="127.47" y1="305.9" x2="127.47" y2="307.4" stroke="#1e1e1e" stroke-width="0.7"/>
<line x1="129.67" y1="305.9" x2="129.67" y2="307.4" stroke="#1e1e1e" stroke-width="0.7"/>
<line x1="131.54" y1="305.9" x2="131.54" y2="307.4" stroke="#1e1e1e" stroke-width="0.7"/>
<line x1="133.15" y1="305.9" x2="133.15" y2="307.4" stroke="#1e1e1e" stroke-width="0.7"/>
<line x1="134.58" y1="305.9" x2="134.58" y2="307.4" stroke="#1e1e1e" stroke-width="0.7"/>
<text x="106.7" y="320.2" font-size="8.4" text-anchor="middle" fill="#2a2a2a" letter-spacing="0.3">10</text>
<text x="111.6" y="315.9" font-size="5.6" fill="#2a2a2a">2</text>
<line x1="135.85" y1="305.9" x2="135.85" y2="308.5" stroke="#1e1e1e" stroke-width="0.9"/>
<line x1="144.23" y1="305.9" x2="144.23" y2="307.4" stroke="#1e1e1e" stroke-width="0.7"/>
<line x1="149.14" y1="305.9" x2="149.14" y2="307.4" stroke="#1e1e1e" stroke-width="0.7"/>
<line x1="152.62" y1="305.9" x2="152.62" y2="307.4" stroke="#1e1e1e" stroke-width="0.7"/>
<line x1="155.32" y1="305.9" x2="155.32" y2="307.4" stroke="#1e1e1e" stroke-width="0.7"/>
<line x1="157.52" y1="305.9" x2="157.52" y2="307.4" stroke="#1e1e1e" stroke-width="0.7"/>
<line x1="159.39" y1="305.9" x2="159.39" y2="307.4" stroke="#1e1e1e" stroke-width="0.7"/>
<line x1="161" y1="305.9" x2="161" y2="307.4" stroke="#1e1e1e" stroke-width="0.7"/>
<line x1="162.43" y1="305.9" x2="162.43" y2="307.4" stroke="#1e1e1e" stroke-width="0.7"/>
<text x="134.55" y="320.2" font-size="8.4" text-anchor="middle" fill="#2a2a2a" letter-spacing="0.3">10</text>
<text x="139.45" y="315.9" font-size="5.6" fill="#2a2a2a">3</text>
<line x1="163.7" y1="305.9" x2="163.7" y2="308.5" stroke="#1e1e1e" stroke-width="0.9"/>
<text x="162.4" y="320.2" font-size="8.4" text-anchor="middle" fill="#2a2a2a" letter-spacing="0.3">10</text>
<text x="167.3" y="315.9" font-size="5.6" fill="#2a2a2a">4</text>
<line x1="49.7" y1="305.9" x2="52.3" y2="305.9" stroke="#1e1e1e" stroke-width="0.9"/>
<line x1="50.8" y1="297.6" x2="52.3" y2="297.6" stroke="#1e1e1e" stroke-width="0.7"/>
<line x1="50.8" y1="292.74" x2="52.3" y2="292.74" stroke="#1e1e1e" stroke-width="0.7"/>
<line x1="50.8" y1="289.3" x2="52.3" y2="289.3" stroke="#1e1e1e" stroke-width="0.7"/>
<line x1="50.8" y1="286.63" x2="52.3" y2="286.63" stroke="#1e1e1e" stroke-width="0.7"/>
<line x1="50.8" y1="284.44" x2="52.3" y2="284.44" stroke="#1e1e1e" stroke-width="0.7"/>
<line x1="50.8" y1="282.6" x2="52.3" y2="282.6" stroke="#1e1e1e" stroke-width="0.7"/>
<line x1="50.8" y1="281" x2="52.3" y2="281" stroke="#1e1e1e" stroke-width="0.7"/>
<line x1="50.8" y1="279.59" x2="52.3" y2="279.59" stroke="#1e1e1e" stroke-width="0.7"/>
<text x="41.8" y="308.7" font-size="8.4" text-anchor="end" fill="#2a2a2a" letter-spacing="0.3">10</text>
<text x="42.1" y="304.5" font-size="5.6" fill="#2a2a2a">0</text>
<line x1="49.7" y1="278.32" x2="52.3" y2="278.32" stroke="#1e1e1e" stroke-width="0.9"/>
<line x1="50.8" y1="270.02" x2="52.3" y2="270.02" stroke="#1e1e1e" stroke-width="0.7"/>
<line x1="50.8" y1="265.17" x2="52.3" y2="265.17" stroke="#1e1e1e" stroke-width="0.7"/>
<line x1="50.8" y1="261.72" x2="52.3" y2="261.72" stroke="#1e1e1e" stroke-width="0.7"/>
<line x1="50.8" y1="259.05" x2="52.3" y2="259.05" stroke="#1e1e1e" stroke-width="0.7"/>
<line x1="50.8" y1="256.87" x2="52.3" y2="256.87" stroke="#1e1e1e" stroke-width="0.7"/>
<line x1="50.8" y1="255.02" x2="52.3" y2="255.02" stroke="#1e1e1e" stroke-width="0.7"/>
<line x1="50.8" y1="253.42" x2="52.3" y2="253.42" stroke="#1e1e1e" stroke-width="0.7"/>
<line x1="50.8" y1="252.01" x2="52.3" y2="252.01" stroke="#1e1e1e" stroke-width="0.7"/>
<text x="41.8" y="281.12" font-size="8.4" text-anchor="end" fill="#2a2a2a" letter-spacing="0.3">10</text>
<text x="42.1" y="276.93" font-size="5.6" fill="#2a2a2a">1</text>
<line x1="49.7" y1="250.75" x2="52.3" y2="250.75" stroke="#1e1e1e" stroke-width="0.9"/>
<line x1="50.8" y1="242.45" x2="52.3" y2="242.45" stroke="#1e1e1e" stroke-width="0.7"/>
<line x1="50.8" y1="237.59" x2="52.3" y2="237.59" stroke="#1e1e1e" stroke-width="0.7"/>
<line x1="50.8" y1="234.15" x2="52.3" y2="234.15" stroke="#1e1e1e" stroke-width="0.7"/>
<line x1="50.8" y1="231.48" x2="52.3" y2="231.48" stroke="#1e1e1e" stroke-width="0.7"/>
<line x1="50.8" y1="229.29" x2="52.3" y2="229.29" stroke="#1e1e1e" stroke-width="0.7"/>
<line x1="50.8" y1="227.45" x2="52.3" y2="227.45" stroke="#1e1e1e" stroke-width="0.7"/>
<line x1="50.8" y1="225.85" x2="52.3" y2="225.85" stroke="#1e1e1e" stroke-width="0.7"/>
<line x1="50.8" y1="224.44" x2="52.3" y2="224.44" stroke="#1e1e1e" stroke-width="0.7"/>
<text x="41.8" y="253.55" font-size="8.4" text-anchor="end" fill="#2a2a2a" letter-spacing="0.3">10</text>
<text x="42.1" y="249.35" font-size="5.6" fill="#2a2a2a">2</text>
<line x1="49.7" y1="223.17" x2="52.3" y2="223.17" stroke="#1e1e1e" stroke-width="0.9"/>
<line x1="50.8" y1="214.87" x2="52.3" y2="214.87" stroke="#1e1e1e" stroke-width="0.7"/>
<line x1="50.8" y1="210.02" x2="52.3" y2="210.02" stroke="#1e1e1e" stroke-width="0.7"/>
<line x1="50.8" y1="206.57" x2="52.3" y2="206.57" stroke="#1e1e1e" stroke-width="0.7"/>
<line x1="50.8" y1="203.9" x2="52.3" y2="203.9" stroke="#1e1e1e" stroke-width="0.7"/>
<line x1="50.8" y1="201.72" x2="52.3" y2="201.72" stroke="#1e1e1e" stroke-width="0.7"/>
<line x1="50.8" y1="199.87" x2="52.3" y2="199.87" stroke="#1e1e1e" stroke-width="0.7"/>
<line x1="50.8" y1="198.27" x2="52.3" y2="198.27" stroke="#1e1e1e" stroke-width="0.7"/>
<line x1="50.8" y1="196.86" x2="52.3" y2="196.86" stroke="#1e1e1e" stroke-width="0.7"/>
<text x="41.8" y="225.97" font-size="8.4" text-anchor="end" fill="#2a2a2a" letter-spacing="0.3">10</text>
<text x="42.1" y="221.77" font-size="5.6" fill="#2a2a2a">3</text>
<line x1="49.7" y1="195.6" x2="52.3" y2="195.6" stroke="#1e1e1e" stroke-width="0.9"/>
<text x="41.8" y="198.4" font-size="8.4" text-anchor="end" fill="#2a2a2a" letter-spacing="0.3">10</text>
<text x="42.1" y="194.2" font-size="5.6" fill="#2a2a2a">4</text>
<text x="108" y="334.1" font-size="9.4" text-anchor="middle" textLength="48" lengthAdjust="spacingAndGlyphs" fill="#222" stroke="#222" stroke-width="0.25">Forward scatter</text>
<text transform="translate(27.1,250.75) rotate(-90)" font-size="9.4" text-anchor="middle" textLength="36.5" lengthAdjust="spacingAndGlyphs" fill="#222" stroke="#222" stroke-width="0.25">Side scatter</text>
<g filter="url(#sb)">
<path d="M290 239h1v1h-1zM286 240h1v1h-1zM315 240h1v1h-1zM293 242h1v1h-1zM303 242h1v1h-1zM313 242h1v1h-1zM292 243h1v1h-1zM300 243h1v1h-1zM291 244h1v1h-1zM309 244h1v1h-1zM287 245h1v1h-1zM292 245h1v1h-1zM296 245h1v1h-1zM300 245h1v1h-1zM304 245h1v1h-1zM287 246h1v1h-1zM289 246h1v1h-1zM291 246h1v1h-1zM293 246h1v1h-1zM295 246h1v1h-1zM297 246h2v1h-2zM287 247h1v1h-1zM289 247h1v1h-1zM293 247h2v1h-2zM274 248h1v1h-1zM277 248h1v1h-1zM282 248h1v1h-1zM284 248h1v1h-1zM287 248h1v1h-1zM291 248h2v1h-2zM294 248h2v1h-2zM299 248h1v1h-1zM301 248h1v1h-1zM303 248h1v1h-1zM280 249h1v1h-1zM285 249h1v1h-1zM292 249h1v1h-1zM300 249h1v1h-1zM278 250h1v1h-1zM289 250h1v1h-1zM297 250h2v1h-2zM306 250h1v1h-1zM277 251h1v1h-1zM279 251h1v1h-1zM284 251h1v1h-1zM288 251h1v1h-1zM291 251h3v1h-3zM296 251h1v1h-1zM306 251h1v1h-1zM276 252h3v1h-3zM280 252h1v1h-1zM284 252h3v1h-3zM288 252h1v1h-1zM292 252h2v1h-2zM296 252h1v1h-1zM298 252h1v1h-1zM274 253h1v1h-1zM276 253h1v1h-1zM278 253h1v1h-1zM280 253h2v1h-2zM285 253h1v1h-1zM294 253h4v1h-4zM299 253h1v1h-1zM301 253h1v1h-1zM304 253h1v1h-1zM314 253h1v1h-1zM273 254h1v1h-1zM275 254h1v1h-1zM277 254h1v1h-1zM280 254h3v1h-3zM298 254h1v1h-1zM302 254h1v1h-1zM306 254h1v1h-1zM308 254h1v1h-1zM273 255h1v1h-1zM277 255h3v1h-3zM296 255h3v1h-3zM301 255h1v1h-1zM271 256h1v1h-1zM274 256h1v1h-1zM276 256h3v1h-3zM296 256h1v1h-1zM298 256h1v1h-1zM304 256h1v1h-1zM309 256h1v1h-1zM245 257h1v1h-1zM272 257h1v1h-1zM276 257h1v1h-1zM267 258h1v1h-1zM269 258h1v1h-1zM272 258h1v1h-1zM274 258h2v1h-2zM259 259h1v1h-1zM264 259h1v1h-1zM267 259h1v1h-1zM271 259h1v1h-1zM273 259h1v1h-1zM297 259h2v1h-2zM300 259h1v1h-1zM272 260h1v1h-1zM297 260h2v1h-2zM301 260h1v1h-1zM262 261h1v1h-1zM269 261h1v1h-1zM300 261h1v1h-1zM250 262h1v1h-1zM252 262h1v1h-1zM258 262h1v1h-1zM265 262h3v1h-3zM269 262h2v1h-2zM296 262h1v1h-1zM298 262h1v1h-1zM261 263h2v1h-2zM264 263h1v1h-1zM269 263h1v1h-1zM295 263h1v1h-1zM298 263h1v1h-1zM237 264h1v1h-1zM247 264h1v1h-1zM252 264h1v1h-1zM256 264h1v1h-1zM259 264h2v1h-2zM262 264h1v1h-1zM265 264h4v1h-4zM295 264h2v1h-2zM237 265h2v1h-2zM240 265h1v1h-1zM245 265h2v1h-2zM248 265h1v1h-1zM250 265h1v1h-1zM254 265h2v1h-2zM258 265h1v1h-1zM260 265h1v1h-1zM262 265h1v1h-1zM265 265h3v1h-3zM295 265h1v1h-1zM307 265h1v1h-1zM234 266h1v1h-1zM239 266h1v1h-1zM243 266h1v1h-1zM245 266h1v1h-1zM248 266h1v1h-1zM250 266h1v1h-1zM252 266h1v1h-1zM255 266h1v1h-1zM257 266h1v1h-1zM263 266h2v1h-2zM293 266h3v1h-3zM297 266h2v1h-2zM227 267h1v1h-1zM235 267h2v1h-2zM238 267h2v1h-2zM244 267h3v1h-3zM249 267h3v1h-3zM253 267h3v1h-3zM257 267h3v1h-3zM262 267h1v1h-1zM295 267h1v1h-1zM297 267h1v1h-1zM305 267h1v1h-1zM226 268h1v1h-1zM228 268h1v1h-1zM235 268h1v1h-1zM237 268h1v1h-1zM240 268h3v1h-3zM244 268h1v1h-1zM246 268h1v1h-1zM251 268h3v1h-3zM291 268h1v1h-1zM293 268h1v1h-1zM296 268h1v1h-1zM233 269h1v1h-1zM235 269h2v1h-2zM238 269h7v1h-7zM291 269h1v1h-1zM294 269h1v1h-1zM296 269h1v1h-1zM226 270h1v1h-1zM229 270h1v1h-1zM231 270h2v1h-2zM236 270h4v1h-4zM289 270h1v1h-1zM291 270h2v1h-2zM226 271h1v1h-1zM229 271h1v1h-1zM233 271h1v1h-1zM288 271h1v1h-1zM290 271h1v1h-1zM296 271h1v1h-1zM300 271h1v1h-1zM227 272h3v1h-3zM287 272h3v1h-3zM294 272h1v1h-1zM226 273h4v1h-4zM286 273h1v1h-1zM288 273h1v1h-1zM291 273h1v1h-1zM294 273h1v1h-1zM226 274h2v1h-2zM284 274h1v1h-1zM286 274h1v1h-1zM288 274h1v1h-1zM290 274h1v1h-1zM282 275h2v1h-2zM292 275h1v1h-1zM294 275h1v1h-1zM284 276h1v1h-1zM279 277h1v1h-1zM284 277h1v1h-1zM288 277h1v1h-1zM278 278h2v1h-2zM282 278h1v1h-1zM279 279h2v1h-2zM276 280h1v1h-1zM274 281h1v1h-1zM276 281h1v1h-1zM273 282h1v1h-1zM275 282h2v1h-2zM281 282h1v1h-1zM273 283h2v1h-2zM280 283h1v1h-1zM282 283h1v1h-1zM270 284h1v1h-1zM277 284h1v1h-1zM279 284h1v1h-1zM283 284h1v1h-1zM269 285h1v1h-1zM267 286h1v1h-1zM269 286h2v1h-2zM277 286h1v1h-1zM291 286h1v1h-1zM265 287h1v1h-1zM267 287h1v1h-1zM269 287h4v1h-4zM262 288h2v1h-2zM265 288h1v1h-1zM270 288h1v1h-1zM272 288h1v1h-1zM260 289h3v1h-3zM268 289h1v1h-1zM261 290h1v1h-1zM263 290h1v1h-1zM270 290h1v1h-1zM254 291h2v1h-2zM257 291h1v1h-1zM259 291h1v1h-1zM261 291h1v1h-1zM250 292h1v1h-1zM255 292h2v1h-2zM261 292h1v1h-1zM264 292h2v1h-2zM279 292h1v1h-1zM245 293h2v1h-2zM248 293h1v1h-1zM250 293h2v1h-2zM272 293h2v1h-2zM227 294h1v1h-1zM237 294h2v1h-2zM241 294h2v1h-2zM244 294h1v1h-1zM248 294h1v1h-1zM250 294h3v1h-3zM263 294h1v1h-1zM226 295h4v1h-4zM231 295h1v1h-1zM235 295h2v1h-2zM238 295h1v1h-1zM241 295h1v1h-1zM243 295h3v1h-3zM254 295h2v1h-2zM258 295h1v1h-1zM260 295h1v1h-1zM226 296h2v1h-2zM230 296h1v1h-1zM233 296h1v1h-1zM236 296h1v1h-1zM239 296h1v1h-1zM248 296h2v1h-2zM258 296h1v1h-1zM227 297h2v1h-2zM246 297h1v1h-1zM228 298h1v1h-1zM232 298h1v1h-1zM250 298h1v1h-1zM232 300h1v1h-1zM248 300h1v1h-1zM251 300h1v1h-1zM244 301h1v1h-1zM226 302h1v1h-1z" fill="#3a34b0" fill-opacity="0.5"/>
<path d="M287 253h3v1h-3zM291 253h2v1h-2zM283 254h1v1h-1zM285 254h6v1h-6zM292 254h1v1h-1zM294 254h1v1h-1zM283 255h4v1h-4zM288 255h7v1h-7zM279 256h4v1h-4zM284 256h3v1h-3zM288 256h4v1h-4zM293 256h2v1h-2zM277 257h9v1h-9zM289 257h1v1h-1zM291 257h1v1h-1zM293 257h2v1h-2zM277 258h2v1h-2zM281 258h1v1h-1zM292 258h5v1h-5zM276 259h4v1h-4zM292 259h2v1h-2zM295 259h2v1h-2zM273 260h2v1h-2zM277 260h2v1h-2zM293 260h3v1h-3zM272 261h5v1h-5zM292 261h3v1h-3zM271 262h1v1h-1zM273 262h2v1h-2zM293 262h3v1h-3zM270 263h1v1h-1zM272 263h3v1h-3zM292 263h3v1h-3zM270 264h2v1h-2zM273 264h1v1h-1zM291 264h2v1h-2zM294 264h1v1h-1zM268 265h1v1h-1zM271 265h2v1h-2zM289 265h1v1h-1zM291 265h2v1h-2zM269 266h4v1h-4zM289 266h1v1h-1zM291 266h2v1h-2zM263 267h9v1h-9zM287 267h2v1h-2zM255 268h1v1h-1zM257 268h1v1h-1zM260 268h1v1h-1zM262 268h1v1h-1zM264 268h2v1h-2zM267 268h4v1h-4zM286 268h2v1h-2zM289 268h2v1h-2zM245 269h7v1h-7zM256 269h10v1h-10zM267 269h4v1h-4zM285 269h2v1h-2zM288 269h2v1h-2zM240 270h2v1h-2zM244 270h1v1h-1zM246 270h1v1h-1zM248 270h3v1h-3zM252 270h10v1h-10zM263 270h1v1h-1zM265 270h5v1h-5zM283 270h1v1h-1zM285 270h4v1h-4zM238 271h12v1h-12zM251 271h7v1h-7zM259 271h3v1h-3zM263 271h5v1h-5zM282 271h1v1h-1zM284 271h4v1h-4zM234 272h1v1h-1zM236 272h6v1h-6zM243 272h4v1h-4zM278 272h6v1h-6zM285 272h1v1h-1zM230 273h3v1h-3zM234 273h7v1h-7zM274 273h11v1h-11zM228 274h3v1h-3zM232 274h1v1h-1zM234 274h4v1h-4zM273 274h3v1h-3zM277 274h5v1h-5zM228 275h7v1h-7zM272 275h1v1h-1zM274 275h4v1h-4zM279 275h3v1h-3zM227 276h2v1h-2zM230 276h2v1h-2zM271 276h2v1h-2zM274 276h6v1h-6zM226 277h4v1h-4zM273 277h4v1h-4zM278 277h1v1h-1zM226 278h2v1h-2zM271 278h6v1h-6zM270 279h5v1h-5zM276 279h1v1h-1zM269 280h2v1h-2zM273 280h3v1h-3zM268 281h2v1h-2zM272 281h1v1h-1zM267 282h4v1h-4zM272 282h1v1h-1zM267 283h4v1h-4zM264 284h6v1h-6zM262 285h5v1h-5zM260 286h7v1h-7zM257 287h2v1h-2zM260 287h3v1h-3zM255 288h3v1h-3zM259 288h1v1h-1zM261 288h1v1h-1zM251 289h9v1h-9zM247 290h2v1h-2zM252 290h5v1h-5zM226 291h2v1h-2zM240 291h13v1h-13zM226 292h1v1h-1zM228 292h4v1h-4zM233 292h2v1h-2zM236 292h1v1h-1zM238 292h2v1h-2zM241 292h1v1h-1zM243 292h1v1h-1zM245 292h2v1h-2zM248 292h1v1h-1zM226 293h1v1h-1zM228 293h1v1h-1zM230 293h5v1h-5zM237 293h1v1h-1zM240 293h5v1h-5zM229 294h1v1h-1zM231 294h3v1h-3z" fill="#2828a0" fill-opacity="1"/>
<path d="M286 257h3v1h-3zM283 258h1v1h-1zM285 258h6v1h-6zM280 259h12v1h-12zM279 260h4v1h-4zM288 260h4v1h-4zM277 261h4v1h-4zM289 261h3v1h-3zM276 262h4v1h-4zM289 262h3v1h-3zM275 263h1v1h-1zM277 263h1v1h-1zM288 263h3v1h-3zM274 264h3v1h-3zM288 264h2v1h-2zM273 265h4v1h-4zM287 265h2v1h-2zM273 266h3v1h-3zM285 266h3v1h-3zM272 267h4v1h-4zM284 267h2v1h-2zM271 268h5v1h-5zM282 268h4v1h-4zM271 269h13v1h-13zM270 270h1v1h-1zM272 270h8v1h-8zM281 270h2v1h-2zM269 271h12v1h-12zM248 272h2v1h-2zM251 272h9v1h-9zM261 272h10v1h-10zM272 272h6v1h-6zM241 273h6v1h-6zM248 273h26v1h-26zM238 274h1v1h-1zM240 274h8v1h-8zM258 274h15v1h-15zM235 275h7v1h-7zM263 275h9v1h-9zM232 276h4v1h-4zM237 276h1v1h-1zM264 276h7v1h-7zM230 277h5v1h-5zM265 277h6v1h-6zM228 278h5v1h-5zM265 278h6v1h-6zM226 279h2v1h-2zM229 279h2v1h-2zM265 279h5v1h-5zM226 280h3v1h-3zM265 280h4v1h-4zM226 281h2v1h-2zM264 281h4v1h-4zM226 282h1v1h-1zM263 282h4v1h-4zM261 283h5v1h-5zM260 284h4v1h-4zM258 285h4v1h-4zM255 286h5v1h-5zM252 287h5v1h-5zM226 288h2v1h-2zM248 288h3v1h-3zM252 288h3v1h-3zM226 289h5v1h-5zM243 289h8v1h-8zM227 290h20v1h-20zM230 291h10v1h-10z" fill="#2062d0" fill-opacity="1"/>
<path d="M283 260h5v1h-5zM281 261h8v1h-8zM280 262h9v1h-9zM278 263h3v1h-3zM285 263h3v1h-3zM277 264h3v1h-3zM285 264h3v1h-3zM277 265h2v1h-2zM284 265h2v1h-2zM276 266h4v1h-4zM282 266h3v1h-3zM276 267h8v1h-8zM276 268h6v1h-6zM248 274h10v1h-10zM242 275h21v1h-21zM239 276h6v1h-6zM257 276h7v1h-7zM235 277h5v1h-5zM260 277h5v1h-5zM233 278h4v1h-4zM261 278h4v1h-4zM231 279h1v1h-1zM233 279h2v1h-2zM261 279h4v1h-4zM229 280h4v1h-4zM261 280h4v1h-4zM228 281h3v1h-3zM260 281h4v1h-4zM227 282h3v1h-3zM259 282h4v1h-4zM226 283h3v1h-3zM258 283h3v1h-3zM226 284h3v1h-3zM256 284h4v1h-4zM226 285h3v1h-3zM254 285h4v1h-4zM226 286h4v1h-4zM251 286h4v1h-4zM226 287h5v1h-5zM247 287h5v1h-5zM228 288h20v1h-20zM231 289h12v1h-12z" fill="#1e8ede" fill-opacity="1"/>
<path d="M281 263h4v1h-4zM280 264h5v1h-5zM279 265h5v1h-5zM280 266h2v1h-2zM245 276h12v1h-12zM240 277h20v1h-20zM237 278h6v1h-6zM255 278h6v1h-6zM235 279h5v1h-5zM257 279h4v1h-4zM233 280h4v1h-4zM257 280h4v1h-4zM231 281h4v1h-4zM256 281h4v1h-4zM230 282h4v1h-4zM255 282h4v1h-4zM229 283h4v1h-4zM254 283h4v1h-4zM229 284h4v1h-4zM252 284h4v1h-4zM229 285h5v1h-5zM249 285h5v1h-5zM230 286h6v1h-6zM244 286h7v1h-7zM231 287h16v1h-16z" fill="#1fa8c8" fill-opacity="1"/>
<path d="M243 278h12v1h-12zM240 279h17v1h-17zM237 280h5v1h-5zM252 280h5v1h-5zM235 281h5v1h-5zM252 281h4v1h-4zM234 282h4v1h-4zM251 282h4v1h-4zM233 283h5v1h-5zM250 283h4v1h-4zM233 284h5v1h-5zM247 284h5v1h-5zM234 285h15v1h-15zM236 286h8v1h-8z" fill="#20b080" fill-opacity="1"/>
<path d="M242 280h10v1h-10zM240 281h12v1h-12zM238 282h13v1h-13zM238 283h12v1h-12zM238 284h9v1h-9z" fill="#30b848" fill-opacity="1"/>
</g>
<rect x="225.6" y="198.8" width="112.1" height="110.4" fill="none" stroke="#1e1e1e" stroke-width="1.1"/>
<line x1="225.6" y1="309.2" x2="225.6" y2="311.8" stroke="#1e1e1e" stroke-width="0.9"/>
<line x1="234.04" y1="309.2" x2="234.04" y2="310.7" stroke="#1e1e1e" stroke-width="0.7"/>
<line x1="238.97" y1="309.2" x2="238.97" y2="310.7" stroke="#1e1e1e" stroke-width="0.7"/>
<line x1="242.47" y1="309.2" x2="242.47" y2="310.7" stroke="#1e1e1e" stroke-width="0.7"/>
<line x1="245.19" y1="309.2" x2="245.19" y2="310.7" stroke="#1e1e1e" stroke-width="0.7"/>
<line x1="247.41" y1="309.2" x2="247.41" y2="310.7" stroke="#1e1e1e" stroke-width="0.7"/>
<line x1="249.28" y1="309.2" x2="249.28" y2="310.7" stroke="#1e1e1e" stroke-width="0.7"/>
<line x1="250.91" y1="309.2" x2="250.91" y2="310.7" stroke="#1e1e1e" stroke-width="0.7"/>
<line x1="252.34" y1="309.2" x2="252.34" y2="310.7" stroke="#1e1e1e" stroke-width="0.7"/>
<text x="224.3" y="323.5" font-size="8.4" text-anchor="middle" fill="#2a2a2a" letter-spacing="0.3">10</text>
<text x="229.2" y="319.2" font-size="5.6" fill="#2a2a2a">0</text>
<line x1="253.62" y1="309.2" x2="253.62" y2="311.8" stroke="#1e1e1e" stroke-width="0.9"/>
<line x1="262.06" y1="309.2" x2="262.06" y2="310.7" stroke="#1e1e1e" stroke-width="0.7"/>
<line x1="267" y1="309.2" x2="267" y2="310.7" stroke="#1e1e1e" stroke-width="0.7"/>
<line x1="270.5" y1="309.2" x2="270.5" y2="310.7" stroke="#1e1e1e" stroke-width="0.7"/>
<line x1="273.21" y1="309.2" x2="273.21" y2="310.7" stroke="#1e1e1e" stroke-width="0.7"/>
<line x1="275.43" y1="309.2" x2="275.43" y2="310.7" stroke="#1e1e1e" stroke-width="0.7"/>
<line x1="277.31" y1="309.2" x2="277.31" y2="310.7" stroke="#1e1e1e" stroke-width="0.7"/>
<line x1="278.93" y1="309.2" x2="278.93" y2="310.7" stroke="#1e1e1e" stroke-width="0.7"/>
<line x1="280.37" y1="309.2" x2="280.37" y2="310.7" stroke="#1e1e1e" stroke-width="0.7"/>
<text x="252.32" y="323.5" font-size="8.4" text-anchor="middle" fill="#2a2a2a" letter-spacing="0.3">10</text>
<text x="257.23" y="319.2" font-size="5.6" fill="#2a2a2a">1</text>
<line x1="281.65" y1="309.2" x2="281.65" y2="311.8" stroke="#1e1e1e" stroke-width="0.9"/>
<line x1="290.09" y1="309.2" x2="290.09" y2="310.7" stroke="#1e1e1e" stroke-width="0.7"/>
<line x1="295.02" y1="309.2" x2="295.02" y2="310.7" stroke="#1e1e1e" stroke-width="0.7"/>
<line x1="298.52" y1="309.2" x2="298.52" y2="310.7" stroke="#1e1e1e" stroke-width="0.7"/>
<line x1="301.24" y1="309.2" x2="301.24" y2="310.7" stroke="#1e1e1e" stroke-width="0.7"/>
<line x1="303.46" y1="309.2" x2="303.46" y2="310.7" stroke="#1e1e1e" stroke-width="0.7"/>
<line x1="305.33" y1="309.2" x2="305.33" y2="310.7" stroke="#1e1e1e" stroke-width="0.7"/>
<line x1="306.96" y1="309.2" x2="306.96" y2="310.7" stroke="#1e1e1e" stroke-width="0.7"/>
<line x1="308.39" y1="309.2" x2="308.39" y2="310.7" stroke="#1e1e1e" stroke-width="0.7"/>
<text x="280.35" y="323.5" font-size="8.4" text-anchor="middle" fill="#2a2a2a" letter-spacing="0.3">10</text>
<text x="285.25" y="319.2" font-size="5.6" fill="#2a2a2a">2</text>
<line x1="309.67" y1="309.2" x2="309.67" y2="311.8" stroke="#1e1e1e" stroke-width="0.9"/>
<line x1="318.11" y1="309.2" x2="318.11" y2="310.7" stroke="#1e1e1e" stroke-width="0.7"/>
<line x1="323.05" y1="309.2" x2="323.05" y2="310.7" stroke="#1e1e1e" stroke-width="0.7"/>
<line x1="326.55" y1="309.2" x2="326.55" y2="310.7" stroke="#1e1e1e" stroke-width="0.7"/>
<line x1="329.26" y1="309.2" x2="329.26" y2="310.7" stroke="#1e1e1e" stroke-width="0.7"/>
<line x1="331.48" y1="309.2" x2="331.48" y2="310.7" stroke="#1e1e1e" stroke-width="0.7"/>
<line x1="333.36" y1="309.2" x2="333.36" y2="310.7" stroke="#1e1e1e" stroke-width="0.7"/>
<line x1="334.98" y1="309.2" x2="334.98" y2="310.7" stroke="#1e1e1e" stroke-width="0.7"/>
<line x1="336.42" y1="309.2" x2="336.42" y2="310.7" stroke="#1e1e1e" stroke-width="0.7"/>
<text x="308.37" y="323.5" font-size="8.4" text-anchor="middle" fill="#2a2a2a" letter-spacing="0.3">10</text>
<text x="313.27" y="319.2" font-size="5.6" fill="#2a2a2a">3</text>
<line x1="337.7" y1="309.2" x2="337.7" y2="311.8" stroke="#1e1e1e" stroke-width="0.9"/>
<text x="336.4" y="323.5" font-size="8.4" text-anchor="middle" fill="#2a2a2a" letter-spacing="0.3">10</text>
<text x="341.3" y="319.2" font-size="5.6" fill="#2a2a2a">4</text>
<line x1="223" y1="309.2" x2="225.6" y2="309.2" stroke="#1e1e1e" stroke-width="0.9"/>
<line x1="224.1" y1="300.89" x2="225.6" y2="300.89" stroke="#1e1e1e" stroke-width="0.7"/>
<line x1="224.1" y1="296.03" x2="225.6" y2="296.03" stroke="#1e1e1e" stroke-width="0.7"/>
<line x1="224.1" y1="292.58" x2="225.6" y2="292.58" stroke="#1e1e1e" stroke-width="0.7"/>
<line x1="224.1" y1="289.91" x2="225.6" y2="289.91" stroke="#1e1e1e" stroke-width="0.7"/>
<line x1="224.1" y1="287.72" x2="225.6" y2="287.72" stroke="#1e1e1e" stroke-width="0.7"/>
<line x1="224.1" y1="285.88" x2="225.6" y2="285.88" stroke="#1e1e1e" stroke-width="0.7"/>
<line x1="224.1" y1="284.27" x2="225.6" y2="284.27" stroke="#1e1e1e" stroke-width="0.7"/>
<line x1="224.1" y1="282.86" x2="225.6" y2="282.86" stroke="#1e1e1e" stroke-width="0.7"/>
<text x="216.3" y="312" font-size="8.4" text-anchor="end" fill="#2a2a2a" letter-spacing="0.3">10</text>
<text x="216.6" y="307.8" font-size="5.6" fill="#2a2a2a">0</text>
<line x1="223" y1="281.6" x2="225.6" y2="281.6" stroke="#1e1e1e" stroke-width="0.9"/>
<line x1="224.1" y1="273.29" x2="225.6" y2="273.29" stroke="#1e1e1e" stroke-width="0.7"/>
<line x1="224.1" y1="268.43" x2="225.6" y2="268.43" stroke="#1e1e1e" stroke-width="0.7"/>
<line x1="224.1" y1="264.98" x2="225.6" y2="264.98" stroke="#1e1e1e" stroke-width="0.7"/>
<line x1="224.1" y1="262.31" x2="225.6" y2="262.31" stroke="#1e1e1e" stroke-width="0.7"/>
<line x1="224.1" y1="260.12" x2="225.6" y2="260.12" stroke="#1e1e1e" stroke-width="0.7"/>
<line x1="224.1" y1="258.28" x2="225.6" y2="258.28" stroke="#1e1e1e" stroke-width="0.7"/>
<line x1="224.1" y1="256.67" x2="225.6" y2="256.67" stroke="#1e1e1e" stroke-width="0.7"/>
<line x1="224.1" y1="255.26" x2="225.6" y2="255.26" stroke="#1e1e1e" stroke-width="0.7"/>
<text x="216.3" y="284.4" font-size="8.4" text-anchor="end" fill="#2a2a2a" letter-spacing="0.3">10</text>
<text x="216.6" y="280.2" font-size="5.6" fill="#2a2a2a">1</text>
<line x1="223" y1="254" x2="225.6" y2="254" stroke="#1e1e1e" stroke-width="0.9"/>
<line x1="224.1" y1="245.69" x2="225.6" y2="245.69" stroke="#1e1e1e" stroke-width="0.7"/>
<line x1="224.1" y1="240.83" x2="225.6" y2="240.83" stroke="#1e1e1e" stroke-width="0.7"/>
<line x1="224.1" y1="237.38" x2="225.6" y2="237.38" stroke="#1e1e1e" stroke-width="0.7"/>
<line x1="224.1" y1="234.71" x2="225.6" y2="234.71" stroke="#1e1e1e" stroke-width="0.7"/>
<line x1="224.1" y1="232.52" x2="225.6" y2="232.52" stroke="#1e1e1e" stroke-width="0.7"/>
<line x1="224.1" y1="230.68" x2="225.6" y2="230.68" stroke="#1e1e1e" stroke-width="0.7"/>
<line x1="224.1" y1="229.07" x2="225.6" y2="229.07" stroke="#1e1e1e" stroke-width="0.7"/>
<line x1="224.1" y1="227.66" x2="225.6" y2="227.66" stroke="#1e1e1e" stroke-width="0.7"/>
<text x="216.3" y="256.8" font-size="8.4" text-anchor="end" fill="#2a2a2a" letter-spacing="0.3">10</text>
<text x="216.6" y="252.6" font-size="5.6" fill="#2a2a2a">2</text>
<line x1="223" y1="226.4" x2="225.6" y2="226.4" stroke="#1e1e1e" stroke-width="0.9"/>
<line x1="224.1" y1="218.09" x2="225.6" y2="218.09" stroke="#1e1e1e" stroke-width="0.7"/>
<line x1="224.1" y1="213.23" x2="225.6" y2="213.23" stroke="#1e1e1e" stroke-width="0.7"/>
<line x1="224.1" y1="209.78" x2="225.6" y2="209.78" stroke="#1e1e1e" stroke-width="0.7"/>
<line x1="224.1" y1="207.11" x2="225.6" y2="207.11" stroke="#1e1e1e" stroke-width="0.7"/>
<line x1="224.1" y1="204.92" x2="225.6" y2="204.92" stroke="#1e1e1e" stroke-width="0.7"/>
<line x1="224.1" y1="203.08" x2="225.6" y2="203.08" stroke="#1e1e1e" stroke-width="0.7"/>
<line x1="224.1" y1="201.47" x2="225.6" y2="201.47" stroke="#1e1e1e" stroke-width="0.7"/>
<line x1="224.1" y1="200.06" x2="225.6" y2="200.06" stroke="#1e1e1e" stroke-width="0.7"/>
<text x="216.3" y="229.2" font-size="8.4" text-anchor="end" fill="#2a2a2a" letter-spacing="0.3">10</text>
<text x="216.6" y="225" font-size="5.6" fill="#2a2a2a">3</text>
<line x1="223" y1="198.8" x2="225.6" y2="198.8" stroke="#1e1e1e" stroke-width="0.9"/>
<text x="216.3" y="201.6" font-size="8.4" text-anchor="end" fill="#2a2a2a" letter-spacing="0.3">10</text>
<text x="216.6" y="197.4" font-size="5.6" fill="#2a2a2a">4</text>
<text x="281.65" y="337.4" font-size="9.4" text-anchor="middle" textLength="48" lengthAdjust="spacingAndGlyphs" fill="#222" stroke="#222" stroke-width="0.25">Forward scatter</text>
<text transform="translate(201.1,254) rotate(-90)" font-size="9.4" text-anchor="middle" textLength="36.5" lengthAdjust="spacingAndGlyphs" fill="#222" stroke="#222" stroke-width="0.25">Side scatter</text>
<g filter="url(#sb)">
<path d="M444 238h1v1h-1zM466 240h2v1h-2zM471 241h1v1h-1zM460 244h1v1h-1zM464 244h1v1h-1zM473 244h1v1h-1zM462 245h3v1h-3zM466 245h1v1h-1zM476 245h1v1h-1zM466 246h1v1h-1zM468 246h2v1h-2zM451 247h1v1h-1zM456 247h1v1h-1zM462 247h4v1h-4zM470 247h1v1h-1zM473 247h1v1h-1zM475 247h1v1h-1zM450 248h1v1h-1zM454 248h2v1h-2zM457 248h1v1h-1zM459 248h1v1h-1zM464 248h1v1h-1zM466 248h1v1h-1zM468 248h1v1h-1zM472 248h1v1h-1zM475 248h2v1h-2zM483 248h1v1h-1zM449 249h1v1h-1zM453 249h1v1h-1zM455 249h1v1h-1zM463 249h2v1h-2zM466 249h1v1h-1zM468 249h2v1h-2zM471 249h1v1h-1zM478 249h1v1h-1zM457 250h1v1h-1zM459 250h5v1h-5zM465 250h1v1h-1zM467 250h1v1h-1zM470 250h1v1h-1zM474 250h1v1h-1zM481 250h1v1h-1zM449 251h1v1h-1zM456 251h4v1h-4zM468 251h1v1h-1zM472 251h2v1h-2zM475 251h1v1h-1zM477 251h1v1h-1zM442 252h1v1h-1zM446 252h1v1h-1zM451 252h1v1h-1zM453 252h1v1h-1zM469 252h1v1h-1zM472 252h1v1h-1zM445 253h4v1h-4zM450 253h4v1h-4zM469 253h2v1h-2zM472 253h1v1h-1zM445 254h2v1h-2zM448 254h2v1h-2zM470 254h6v1h-6zM482 254h1v1h-1zM436 255h1v1h-1zM439 255h1v1h-1zM444 255h1v1h-1zM448 255h1v1h-1zM472 255h3v1h-3zM476 255h2v1h-2zM438 256h1v1h-1zM442 256h1v1h-1zM446 256h2v1h-2zM471 256h1v1h-1zM473 256h1v1h-1zM476 256h1v1h-1zM440 257h1v1h-1zM442 257h1v1h-1zM444 257h1v1h-1zM471 257h4v1h-4zM479 257h2v1h-2zM443 258h2v1h-2zM478 258h1v1h-1zM432 259h2v1h-2zM441 259h3v1h-3zM471 259h1v1h-1zM479 259h2v1h-2zM433 260h1v1h-1zM439 260h4v1h-4zM470 260h2v1h-2zM473 260h2v1h-2zM436 261h1v1h-1zM438 261h3v1h-3zM471 261h1v1h-1zM477 261h1v1h-1zM481 261h1v1h-1zM437 262h1v1h-1zM439 262h1v1h-1zM470 262h1v1h-1zM434 263h2v1h-2zM437 263h1v1h-1zM439 263h1v1h-1zM473 263h2v1h-2zM423 264h1v1h-1zM431 264h1v1h-1zM437 264h2v1h-2zM468 264h2v1h-2zM416 265h1v1h-1zM420 265h1v1h-1zM425 265h1v1h-1zM427 265h1v1h-1zM430 265h1v1h-1zM435 265h1v1h-1zM437 265h1v1h-1zM468 265h1v1h-1zM407 266h1v1h-1zM411 266h1v1h-1zM415 266h3v1h-3zM437 266h1v1h-1zM468 266h2v1h-2zM477 266h1v1h-1zM419 267h2v1h-2zM425 267h1v1h-1zM434 267h3v1h-3zM466 267h4v1h-4zM473 267h1v1h-1zM481 267h1v1h-1zM400 268h2v1h-2zM409 268h1v1h-1zM414 268h2v1h-2zM417 268h1v1h-1zM419 268h4v1h-4zM424 268h1v1h-1zM426 268h5v1h-5zM432 268h3v1h-3zM465 268h1v1h-1zM467 268h1v1h-1zM474 268h1v1h-1zM410 269h2v1h-2zM413 269h2v1h-2zM416 269h3v1h-3zM420 269h1v1h-1zM430 269h4v1h-4zM466 269h2v1h-2zM405 270h2v1h-2zM410 270h4v1h-4zM415 270h1v1h-1zM463 270h3v1h-3zM399 271h1v1h-1zM402 271h2v1h-2zM405 271h5v1h-5zM462 271h1v1h-1zM464 271h3v1h-3zM397 272h1v1h-1zM401 272h4v1h-4zM461 272h1v1h-1zM464 272h2v1h-2zM467 272h1v1h-1zM397 273h2v1h-2zM400 273h1v1h-1zM403 273h1v1h-1zM460 273h1v1h-1zM464 273h1v1h-1zM467 273h1v1h-1zM399 274h2v1h-2zM458 274h3v1h-3zM462 274h2v1h-2zM467 274h2v1h-2zM395 275h2v1h-2zM398 275h1v1h-1zM457 275h1v1h-1zM396 276h1v1h-1zM455 276h3v1h-3zM459 276h2v1h-2zM469 276h1v1h-1zM473 276h1v1h-1zM454 277h1v1h-1zM456 277h1v1h-1zM458 277h1v1h-1zM461 277h1v1h-1zM453 278h1v1h-1zM457 278h1v1h-1zM461 278h2v1h-2zM449 279h1v1h-1zM446 280h1v1h-1zM448 280h3v1h-3zM452 280h1v1h-1zM443 281h1v1h-1zM445 281h2v1h-2zM450 281h1v1h-1zM445 282h2v1h-2zM450 282h2v1h-2zM464 282h1v1h-1zM441 283h1v1h-1zM444 283h1v1h-1zM446 283h1v1h-1zM449 283h1v1h-1zM438 284h2v1h-2zM442 284h3v1h-3zM446 284h1v1h-1zM448 284h1v1h-1zM443 285h2v1h-2zM449 285h1v1h-1zM435 286h2v1h-2zM438 286h1v1h-1zM440 286h1v1h-1zM442 286h1v1h-1zM447 286h1v1h-1zM434 287h1v1h-1zM437 287h2v1h-2zM440 287h1v1h-1zM432 288h3v1h-3zM440 288h1v1h-1zM442 288h1v1h-1zM430 289h2v1h-2zM430 290h1v1h-1zM432 290h2v1h-2zM438 290h1v1h-1zM425 291h1v1h-1zM427 291h1v1h-1zM431 291h1v1h-1zM437 291h1v1h-1zM440 291h1v1h-1zM422 292h3v1h-3zM427 292h3v1h-3zM441 292h1v1h-1zM395 293h1v1h-1zM421 293h1v1h-1zM427 293h1v1h-1zM444 293h1v1h-1zM395 294h2v1h-2zM398 294h2v1h-2zM413 294h1v1h-1zM417 294h1v1h-1zM419 294h1v1h-1zM421 294h1v1h-1zM423 294h1v1h-1zM396 295h2v1h-2zM399 295h2v1h-2zM403 295h2v1h-2zM406 295h2v1h-2zM410 295h2v1h-2zM413 295h1v1h-1zM416 295h1v1h-1zM431 295h1v1h-1zM395 296h1v1h-1zM397 296h1v1h-1zM399 296h1v1h-1zM402 296h1v1h-1zM413 296h1v1h-1zM416 296h2v1h-2zM419 296h1v1h-1zM428 296h1v1h-1zM396 297h1v1h-1zM399 297h1v1h-1zM401 297h1v1h-1zM409 297h1v1h-1zM411 297h1v1h-1zM423 297h1v1h-1zM396 298h1v1h-1zM398 298h1v1h-1zM404 298h1v1h-1zM396 299h1v1h-1zM400 299h1v1h-1zM407 299h1v1h-1zM412 299h1v1h-1zM421 299h1v1h-1zM401 300h1v1h-1zM405 301h1v1h-1zM414 302h1v1h-1z" fill="#3a34b0" fill-opacity="0.5"/>
<path d="M460 251h1v1h-1zM462 251h4v1h-4zM456 252h2v1h-2zM459 252h1v1h-1zM463 252h2v1h-2zM466 252h1v1h-1zM454 253h14v1h-14zM451 254h1v1h-1zM453 254h10v1h-10zM464 254h2v1h-2zM467 254h3v1h-3zM450 255h9v1h-9zM462 255h2v1h-2zM465 255h3v1h-3zM450 256h5v1h-5zM464 256h3v1h-3zM469 256h1v1h-1zM448 257h2v1h-2zM451 257h1v1h-1zM465 257h4v1h-4zM470 257h1v1h-1zM445 258h2v1h-2zM448 258h3v1h-3zM466 258h2v1h-2zM469 258h1v1h-1zM444 259h5v1h-5zM466 259h5v1h-5zM443 260h5v1h-5zM466 260h2v1h-2zM443 261h4v1h-4zM466 261h4v1h-4zM442 262h4v1h-4zM465 262h2v1h-2zM468 262h1v1h-1zM440 263h5v1h-5zM465 263h2v1h-2zM439 264h1v1h-1zM441 264h3v1h-3zM464 264h3v1h-3zM438 265h1v1h-1zM440 265h3v1h-3zM465 265h1v1h-1zM467 265h1v1h-1zM438 266h1v1h-1zM440 266h2v1h-2zM464 266h1v1h-1zM466 266h1v1h-1zM437 267h2v1h-2zM440 267h1v1h-1zM462 267h4v1h-4zM436 268h1v1h-1zM438 268h3v1h-3zM461 268h4v1h-4zM435 269h5v1h-5zM460 269h2v1h-2zM463 269h1v1h-1zM417 270h4v1h-4zM422 270h5v1h-5zM429 270h3v1h-3zM435 270h5v1h-5zM459 270h4v1h-4zM410 271h9v1h-9zM421 271h5v1h-5zM429 271h4v1h-4zM438 271h1v1h-1zM460 271h2v1h-2zM407 272h1v1h-1zM409 272h9v1h-9zM419 272h5v1h-5zM425 272h2v1h-2zM428 272h9v1h-9zM438 272h1v1h-1zM456 272h1v1h-1zM459 272h2v1h-2zM404 273h11v1h-11zM427 273h2v1h-2zM430 273h5v1h-5zM436 273h1v1h-1zM438 273h1v1h-1zM455 273h5v1h-5zM401 274h2v1h-2zM405 274h5v1h-5zM434 274h4v1h-4zM452 274h5v1h-5zM399 275h5v1h-5zM405 275h2v1h-2zM449 275h8v1h-8zM398 276h2v1h-2zM401 276h4v1h-4zM439 276h2v1h-2zM444 276h9v1h-9zM396 277h7v1h-7zM438 277h3v1h-3zM442 277h7v1h-7zM450 277h3v1h-3zM395 278h6v1h-6zM438 278h13v1h-13zM395 279h5v1h-5zM437 279h5v1h-5zM443 279h5v1h-5zM397 280h1v1h-1zM436 280h1v1h-1zM438 280h5v1h-5zM395 281h2v1h-2zM436 281h4v1h-4zM441 281h1v1h-1zM435 282h6v1h-6zM395 283h1v1h-1zM434 283h4v1h-4zM439 283h1v1h-1zM433 284h2v1h-2zM436 284h1v1h-1zM432 285h3v1h-3zM436 285h1v1h-1zM430 286h5v1h-5zM428 287h4v1h-4zM433 287h1v1h-1zM395 288h1v1h-1zM426 288h4v1h-4zM431 288h1v1h-1zM395 289h2v1h-2zM424 289h3v1h-3zM428 289h2v1h-2zM395 290h3v1h-3zM421 290h5v1h-5zM427 290h1v1h-1zM395 291h5v1h-5zM417 291h5v1h-5zM423 291h1v1h-1zM395 292h1v1h-1zM397 292h5v1h-5zM403 292h13v1h-13zM417 292h5v1h-5zM396 293h4v1h-4zM401 293h8v1h-8zM410 293h1v1h-1zM412 293h2v1h-2zM415 293h2v1h-2zM400 294h4v1h-4zM405 294h2v1h-2zM408 294h1v1h-1z" fill="#2828a0" fill-opacity="1"/>
<path d="M459 255h3v1h-3zM455 256h9v1h-9zM453 257h1v1h-1zM455 257h8v1h-8zM464 257h1v1h-1zM451 258h5v1h-5zM461 258h5v1h-5zM449 259h4v1h-4zM462 259h2v1h-2zM465 259h1v1h-1zM448 260h3v1h-3zM463 260h3v1h-3zM448 261h2v1h-2zM463 261h3v1h-3zM446 262h2v1h-2zM463 262h2v1h-2zM445 263h2v1h-2zM462 263h3v1h-3zM444 264h2v1h-2zM462 264h2v1h-2zM443 265h3v1h-3zM461 265h3v1h-3zM442 266h3v1h-3zM460 266h3v1h-3zM441 267h3v1h-3zM460 267h2v1h-2zM441 268h3v1h-3zM458 268h3v1h-3zM441 269h2v1h-2zM457 269h3v1h-3zM440 270h3v1h-3zM456 270h3v1h-3zM439 271h1v1h-1zM441 271h2v1h-2zM454 271h4v1h-4zM439 272h5v1h-5zM452 272h4v1h-4zM415 273h1v1h-1zM417 273h10v1h-10zM439 273h6v1h-6zM449 273h2v1h-2zM452 273h2v1h-2zM410 274h2v1h-2zM413 274h20v1h-20zM438 274h14v1h-14zM407 275h8v1h-8zM426 275h10v1h-10zM437 275h4v1h-4zM442 275h7v1h-7zM405 276h6v1h-6zM429 276h6v1h-6zM436 276h3v1h-3zM442 276h1v1h-1zM403 277h5v1h-5zM431 277h7v1h-7zM401 278h5v1h-5zM432 278h5v1h-5zM400 279h4v1h-4zM433 279h4v1h-4zM398 280h4v1h-4zM433 280h3v1h-3zM397 281h4v1h-4zM432 281h4v1h-4zM396 282h4v1h-4zM432 282h2v1h-2zM396 283h3v1h-3zM431 283h3v1h-3zM395 284h4v1h-4zM430 284h3v1h-3zM395 285h4v1h-4zM429 285h3v1h-3zM395 286h4v1h-4zM427 286h3v1h-3zM395 287h4v1h-4zM425 287h3v1h-3zM396 288h4v1h-4zM423 288h3v1h-3zM397 289h4v1h-4zM420 289h4v1h-4zM398 290h6v1h-6zM415 290h6v1h-6zM400 291h10v1h-10zM411 291h6v1h-6z" fill="#2062d0" fill-opacity="1"/>
<path d="M456 258h5v1h-5zM453 259h9v1h-9zM451 260h4v1h-4zM460 260h3v1h-3zM450 261h2v1h-2zM461 261h2v1h-2zM448 262h3v1h-3zM461 262h2v1h-2zM447 263h2v1h-2zM461 263h1v1h-1zM446 264h2v1h-2zM460 264h2v1h-2zM446 265h1v1h-1zM459 265h2v1h-2zM445 266h2v1h-2zM444 267h2v1h-2zM458 267h2v1h-2zM444 268h2v1h-2zM457 268h1v1h-1zM443 269h2v1h-2zM455 269h2v1h-2zM443 270h2v1h-2zM453 270h3v1h-3zM443 271h3v1h-3zM451 271h3v1h-3zM444 272h8v1h-8zM445 273h1v1h-1zM448 273h1v1h-1zM415 275h7v1h-7zM423 275h3v1h-3zM411 276h9v1h-9zM421 276h8v1h-8zM408 277h4v1h-4zM427 277h4v1h-4zM406 278h3v1h-3zM429 278h3v1h-3zM404 279h3v1h-3zM430 279h3v1h-3zM402 280h3v1h-3zM430 280h3v1h-3zM401 281h3v1h-3zM430 281h2v1h-2zM400 282h3v1h-3zM430 282h2v1h-2zM399 283h3v1h-3zM429 283h2v1h-2zM399 284h2v1h-2zM428 284h2v1h-2zM399 285h2v1h-2zM427 285h2v1h-2zM399 286h2v1h-2zM425 286h2v1h-2zM399 287h3v1h-3zM423 287h2v1h-2zM400 288h3v1h-3zM420 288h3v1h-3zM401 289h5v1h-5zM415 289h5v1h-5zM404 290h11v1h-11z" fill="#1e8ede" fill-opacity="1"/>
<path d="M455 260h5v1h-5zM452 261h9v1h-9zM451 262h3v1h-3zM458 262h3v1h-3zM449 263h3v1h-3zM458 263h3v1h-3zM448 264h2v1h-2zM458 264h2v1h-2zM447 265h2v1h-2zM458 265h1v1h-1zM447 266h2v1h-2zM457 266h2v1h-2zM446 267h2v1h-2zM456 267h2v1h-2zM446 268h2v1h-2zM454 268h2v1h-2zM445 269h3v1h-3zM452 269h3v1h-3zM445 270h8v1h-8zM446 271h5v1h-5zM420 276h1v1h-1zM412 277h15v1h-15zM409 278h5v1h-5zM425 278h4v1h-4zM407 279h4v1h-4zM427 279h3v1h-3zM405 280h3v1h-3zM428 280h2v1h-2zM404 281h3v1h-3zM428 281h2v1h-2zM403 282h2v1h-2zM427 282h3v1h-3zM402 283h2v1h-2zM427 283h2v1h-2zM401 284h3v1h-3zM426 284h2v1h-2zM401 285h3v1h-3zM424 285h3v1h-3zM401 286h3v1h-3zM422 286h3v1h-3zM402 287h3v1h-3zM420 287h3v1h-3zM403 288h4v1h-4zM415 288h5v1h-5zM406 289h9v1h-9z" fill="#1fa8c8" fill-opacity="1"/>
<path d="M454 262h4v1h-4zM452 263h6v1h-6zM450 264h3v1h-3zM456 264h2v1h-2zM449 265h2v1h-2zM455 265h3v1h-3zM449 266h2v1h-2zM455 266h2v1h-2zM448 267h2v1h-2zM453 267h3v1h-3zM448 268h6v1h-6zM448 269h4v1h-4zM414 278h11v1h-11zM411 279h3v1h-3zM423 279h4v1h-4zM408 280h3v1h-3zM425 280h3v1h-3zM407 281h2v1h-2zM426 281h2v1h-2zM405 282h3v1h-3zM426 282h1v1h-1zM404 283h3v1h-3zM425 283h2v1h-2zM404 284h2v1h-2zM424 284h2v1h-2zM404 285h2v1h-2zM422 285h2v1h-2zM404 286h2v1h-2zM420 286h2v1h-2zM405 287h3v1h-3zM416 287h4v1h-4zM407 288h8v1h-8z" fill="#20b080" fill-opacity="1"/>
<path d="M453 264h3v1h-3zM451 265h4v1h-4zM451 266h4v1h-4zM450 267h3v1h-3zM414 279h9v1h-9zM411 280h4v1h-4zM421 280h4v1h-4zM409 281h3v1h-3zM423 281h3v1h-3zM408 282h2v1h-2zM423 282h3v1h-3zM407 283h2v1h-2zM423 283h2v1h-2zM406 284h2v1h-2zM422 284h2v1h-2zM406 285h3v1h-3zM420 285h2v1h-2zM406 286h4v1h-4zM416 286h4v1h-4zM408 287h8v1h-8z" fill="#30b848" fill-opacity="1"/>
<path d="M415 280h6v1h-6zM412 281h11v1h-11zM410 282h3v1h-3zM420 282h3v1h-3zM409 283h3v1h-3zM420 283h3v1h-3zM408 284h3v1h-3zM419 284h3v1h-3zM409 285h4v1h-4zM416 285h4v1h-4zM410 286h6v1h-6z" fill="#a8d028" fill-opacity="1"/>
<path d="M413 282h7v1h-7zM412 283h8v1h-8zM411 284h8v1h-8zM413 285h3v1h-3z" fill="#e8e020" fill-opacity="1"/>
</g>
<rect x="394.6" y="201.6" width="112.4" height="110.1" fill="none" stroke="#1e1e1e" stroke-width="1.1"/>
<line x1="394.6" y1="311.7" x2="394.6" y2="314.3" stroke="#1e1e1e" stroke-width="0.9"/>
<line x1="403.06" y1="311.7" x2="403.06" y2="313.2" stroke="#1e1e1e" stroke-width="0.7"/>
<line x1="408.01" y1="311.7" x2="408.01" y2="313.2" stroke="#1e1e1e" stroke-width="0.7"/>
<line x1="411.52" y1="311.7" x2="411.52" y2="313.2" stroke="#1e1e1e" stroke-width="0.7"/>
<line x1="414.24" y1="311.7" x2="414.24" y2="313.2" stroke="#1e1e1e" stroke-width="0.7"/>
<line x1="416.47" y1="311.7" x2="416.47" y2="313.2" stroke="#1e1e1e" stroke-width="0.7"/>
<line x1="418.35" y1="311.7" x2="418.35" y2="313.2" stroke="#1e1e1e" stroke-width="0.7"/>
<line x1="419.98" y1="311.7" x2="419.98" y2="313.2" stroke="#1e1e1e" stroke-width="0.7"/>
<line x1="421.41" y1="311.7" x2="421.41" y2="313.2" stroke="#1e1e1e" stroke-width="0.7"/>
<text x="393.3" y="326" font-size="8.4" text-anchor="middle" fill="#2a2a2a" letter-spacing="0.3">10</text>
<text x="398.2" y="321.7" font-size="5.6" fill="#2a2a2a">0</text>
<line x1="422.7" y1="311.7" x2="422.7" y2="314.3" stroke="#1e1e1e" stroke-width="0.9"/>
<line x1="431.16" y1="311.7" x2="431.16" y2="313.2" stroke="#1e1e1e" stroke-width="0.7"/>
<line x1="436.11" y1="311.7" x2="436.11" y2="313.2" stroke="#1e1e1e" stroke-width="0.7"/>
<line x1="439.62" y1="311.7" x2="439.62" y2="313.2" stroke="#1e1e1e" stroke-width="0.7"/>
<line x1="442.34" y1="311.7" x2="442.34" y2="313.2" stroke="#1e1e1e" stroke-width="0.7"/>
<line x1="444.57" y1="311.7" x2="444.57" y2="313.2" stroke="#1e1e1e" stroke-width="0.7"/>
<line x1="446.45" y1="311.7" x2="446.45" y2="313.2" stroke="#1e1e1e" stroke-width="0.7"/>
<line x1="448.08" y1="311.7" x2="448.08" y2="313.2" stroke="#1e1e1e" stroke-width="0.7"/>
<line x1="449.51" y1="311.7" x2="449.51" y2="313.2" stroke="#1e1e1e" stroke-width="0.7"/>
<text x="421.4" y="326" font-size="8.4" text-anchor="middle" fill="#2a2a2a" letter-spacing="0.3">10</text>
<text x="426.3" y="321.7" font-size="5.6" fill="#2a2a2a">1</text>
<line x1="450.8" y1="311.7" x2="450.8" y2="314.3" stroke="#1e1e1e" stroke-width="0.9"/>
<line x1="459.26" y1="311.7" x2="459.26" y2="313.2" stroke="#1e1e1e" stroke-width="0.7"/>
<line x1="464.21" y1="311.7" x2="464.21" y2="313.2" stroke="#1e1e1e" stroke-width="0.7"/>
<line x1="467.72" y1="311.7" x2="467.72" y2="313.2" stroke="#1e1e1e" stroke-width="0.7"/>
<line x1="470.44" y1="311.7" x2="470.44" y2="313.2" stroke="#1e1e1e" stroke-width="0.7"/>
<line x1="472.67" y1="311.7" x2="472.67" y2="313.2" stroke="#1e1e1e" stroke-width="0.7"/>
<line x1="474.55" y1="311.7" x2="474.55" y2="313.2" stroke="#1e1e1e" stroke-width="0.7"/>
<line x1="476.18" y1="311.7" x2="476.18" y2="313.2" stroke="#1e1e1e" stroke-width="0.7"/>
<line x1="477.61" y1="311.7" x2="477.61" y2="313.2" stroke="#1e1e1e" stroke-width="0.7"/>
<text x="449.5" y="326" font-size="8.4" text-anchor="middle" fill="#2a2a2a" letter-spacing="0.3">10</text>
<text x="454.4" y="321.7" font-size="5.6" fill="#2a2a2a">2</text>
<line x1="478.9" y1="311.7" x2="478.9" y2="314.3" stroke="#1e1e1e" stroke-width="0.9"/>
<line x1="487.36" y1="311.7" x2="487.36" y2="313.2" stroke="#1e1e1e" stroke-width="0.7"/>
<line x1="492.31" y1="311.7" x2="492.31" y2="313.2" stroke="#1e1e1e" stroke-width="0.7"/>
<line x1="495.82" y1="311.7" x2="495.82" y2="313.2" stroke="#1e1e1e" stroke-width="0.7"/>
<line x1="498.54" y1="311.7" x2="498.54" y2="313.2" stroke="#1e1e1e" stroke-width="0.7"/>
<line x1="500.77" y1="311.7" x2="500.77" y2="313.2" stroke="#1e1e1e" stroke-width="0.7"/>
<line x1="502.65" y1="311.7" x2="502.65" y2="313.2" stroke="#1e1e1e" stroke-width="0.7"/>
<line x1="504.28" y1="311.7" x2="504.28" y2="313.2" stroke="#1e1e1e" stroke-width="0.7"/>
<line x1="505.71" y1="311.7" x2="505.71" y2="313.2" stroke="#1e1e1e" stroke-width="0.7"/>
<text x="477.6" y="326" font-size="8.4" text-anchor="middle" fill="#2a2a2a" letter-spacing="0.3">10</text>
<text x="482.5" y="321.7" font-size="5.6" fill="#2a2a2a">3</text>
<line x1="507" y1="311.7" x2="507" y2="314.3" stroke="#1e1e1e" stroke-width="0.9"/>
<text x="505.7" y="326" font-size="8.4" text-anchor="middle" fill="#2a2a2a" letter-spacing="0.3">10</text>
<text x="510.6" y="321.7" font-size="5.6" fill="#2a2a2a">4</text>
<line x1="392" y1="311.7" x2="394.6" y2="311.7" stroke="#1e1e1e" stroke-width="0.9"/>
<line x1="393.1" y1="303.41" x2="394.6" y2="303.41" stroke="#1e1e1e" stroke-width="0.7"/>
<line x1="393.1" y1="298.57" x2="394.6" y2="298.57" stroke="#1e1e1e" stroke-width="0.7"/>
<line x1="393.1" y1="295.13" x2="394.6" y2="295.13" stroke="#1e1e1e" stroke-width="0.7"/>
<line x1="393.1" y1="292.46" x2="394.6" y2="292.46" stroke="#1e1e1e" stroke-width="0.7"/>
<line x1="393.1" y1="290.28" x2="394.6" y2="290.28" stroke="#1e1e1e" stroke-width="0.7"/>
<line x1="393.1" y1="288.44" x2="394.6" y2="288.44" stroke="#1e1e1e" stroke-width="0.7"/>
<line x1="393.1" y1="286.84" x2="394.6" y2="286.84" stroke="#1e1e1e" stroke-width="0.7"/>
<line x1="393.1" y1="285.43" x2="394.6" y2="285.43" stroke="#1e1e1e" stroke-width="0.7"/>
<text x="385.3" y="314.5" font-size="8.4" text-anchor="end" fill="#2a2a2a" letter-spacing="0.3">10</text>
<text x="385.6" y="310.3" font-size="5.6" fill="#2a2a2a">0</text>
<line x1="392" y1="284.18" x2="394.6" y2="284.18" stroke="#1e1e1e" stroke-width="0.9"/>
<line x1="393.1" y1="275.89" x2="394.6" y2="275.89" stroke="#1e1e1e" stroke-width="0.7"/>
<line x1="393.1" y1="271.04" x2="394.6" y2="271.04" stroke="#1e1e1e" stroke-width="0.7"/>
<line x1="393.1" y1="267.6" x2="394.6" y2="267.6" stroke="#1e1e1e" stroke-width="0.7"/>
<line x1="393.1" y1="264.94" x2="394.6" y2="264.94" stroke="#1e1e1e" stroke-width="0.7"/>
<line x1="393.1" y1="262.76" x2="394.6" y2="262.76" stroke="#1e1e1e" stroke-width="0.7"/>
<line x1="393.1" y1="260.91" x2="394.6" y2="260.91" stroke="#1e1e1e" stroke-width="0.7"/>
<line x1="393.1" y1="259.32" x2="394.6" y2="259.32" stroke="#1e1e1e" stroke-width="0.7"/>
<line x1="393.1" y1="257.91" x2="394.6" y2="257.91" stroke="#1e1e1e" stroke-width="0.7"/>
<text x="385.3" y="286.98" font-size="8.4" text-anchor="end" fill="#2a2a2a" letter-spacing="0.3">10</text>
<text x="385.6" y="282.78" font-size="5.6" fill="#2a2a2a">1</text>
<line x1="392" y1="256.65" x2="394.6" y2="256.65" stroke="#1e1e1e" stroke-width="0.9"/>
<line x1="393.1" y1="248.36" x2="394.6" y2="248.36" stroke="#1e1e1e" stroke-width="0.7"/>
<line x1="393.1" y1="243.52" x2="394.6" y2="243.52" stroke="#1e1e1e" stroke-width="0.7"/>
<line x1="393.1" y1="240.08" x2="394.6" y2="240.08" stroke="#1e1e1e" stroke-width="0.7"/>
<line x1="393.1" y1="237.41" x2="394.6" y2="237.41" stroke="#1e1e1e" stroke-width="0.7"/>
<line x1="393.1" y1="235.23" x2="394.6" y2="235.23" stroke="#1e1e1e" stroke-width="0.7"/>
<line x1="393.1" y1="233.39" x2="394.6" y2="233.39" stroke="#1e1e1e" stroke-width="0.7"/>
<line x1="393.1" y1="231.79" x2="394.6" y2="231.79" stroke="#1e1e1e" stroke-width="0.7"/>
<line x1="393.1" y1="230.38" x2="394.6" y2="230.38" stroke="#1e1e1e" stroke-width="0.7"/>
<text x="385.3" y="259.45" font-size="8.4" text-anchor="end" fill="#2a2a2a" letter-spacing="0.3">10</text>
<text x="385.6" y="255.25" font-size="5.6" fill="#2a2a2a">2</text>
<line x1="392" y1="229.12" x2="394.6" y2="229.12" stroke="#1e1e1e" stroke-width="0.9"/>
<line x1="393.1" y1="220.84" x2="394.6" y2="220.84" stroke="#1e1e1e" stroke-width="0.7"/>
<line x1="393.1" y1="215.99" x2="394.6" y2="215.99" stroke="#1e1e1e" stroke-width="0.7"/>
<line x1="393.1" y1="212.55" x2="394.6" y2="212.55" stroke="#1e1e1e" stroke-width="0.7"/>
<line x1="393.1" y1="209.89" x2="394.6" y2="209.89" stroke="#1e1e1e" stroke-width="0.7"/>
<line x1="393.1" y1="207.71" x2="394.6" y2="207.71" stroke="#1e1e1e" stroke-width="0.7"/>
<line x1="393.1" y1="205.86" x2="394.6" y2="205.86" stroke="#1e1e1e" stroke-width="0.7"/>
<line x1="393.1" y1="204.27" x2="394.6" y2="204.27" stroke="#1e1e1e" stroke-width="0.7"/>
<line x1="393.1" y1="202.86" x2="394.6" y2="202.86" stroke="#1e1e1e" stroke-width="0.7"/>
<text x="385.3" y="231.93" font-size="8.4" text-anchor="end" fill="#2a2a2a" letter-spacing="0.3">10</text>
<text x="385.6" y="227.72" font-size="5.6" fill="#2a2a2a">3</text>
<line x1="392" y1="201.6" x2="394.6" y2="201.6" stroke="#1e1e1e" stroke-width="0.9"/>
<text x="385.3" y="204.4" font-size="8.4" text-anchor="end" fill="#2a2a2a" letter-spacing="0.3">10</text>
<text x="385.6" y="200.2" font-size="5.6" fill="#2a2a2a">4</text>
<text x="450.8" y="339.9" font-size="9.4" text-anchor="middle" textLength="48" lengthAdjust="spacingAndGlyphs" fill="#222" stroke="#222" stroke-width="0.25">Forward scatter</text>
<text transform="translate(370.3,256.65) rotate(-90)" font-size="9.4" text-anchor="middle" textLength="36.5" lengthAdjust="spacingAndGlyphs" fill="#222" stroke="#222" stroke-width="0.25">Side scatter</text>
<line x1="54.5" y1="364" x2="54.5" y2="457.4" stroke="#1e1e1e" stroke-width="1"/>
<line x1="54.5" y1="457.4" x2="189" y2="457.4" stroke="#1e1e1e" stroke-width="1"/>
<line x1="51.5" y1="457.4" x2="54.5" y2="457.4" stroke="#1e1e1e" stroke-width="0.9"/>
<text x="47.6" y="460.4" font-size="8.4" text-anchor="end" fill="#2a2a2a" letter-spacing="0.15">0</text>
<line x1="51.5" y1="439.38" x2="54.5" y2="439.38" stroke="#1e1e1e" stroke-width="0.9"/>
<text x="47.6" y="442.38" font-size="8.4" text-anchor="end" fill="#2a2a2a" letter-spacing="0.15">20</text>
<line x1="51.5" y1="421.36" x2="54.5" y2="421.36" stroke="#1e1e1e" stroke-width="0.9"/>
<text x="47.6" y="424.36" font-size="8.4" text-anchor="end" fill="#2a2a2a" letter-spacing="0.15">40</text>
<line x1="51.5" y1="403.34" x2="54.5" y2="403.34" stroke="#1e1e1e" stroke-width="0.9"/>
<text x="47.6" y="406.34" font-size="8.4" text-anchor="end" fill="#2a2a2a" letter-spacing="0.15">60</text>
<line x1="51.5" y1="385.32" x2="54.5" y2="385.32" stroke="#1e1e1e" stroke-width="0.9"/>
<text x="47.6" y="388.32" font-size="8.4" text-anchor="end" fill="#2a2a2a" letter-spacing="0.15">80</text>
<line x1="51.5" y1="367.3" x2="54.5" y2="367.3" stroke="#1e1e1e" stroke-width="0.9"/>
<text x="47.6" y="370.3" font-size="8.4" text-anchor="end" fill="#2a2a2a" letter-spacing="0.15">100</text>
<text transform="translate(27.6,410.4) rotate(-90)" font-size="8.4" text-anchor="middle" textLength="25.5" lengthAdjust="spacingAndGlyphs" fill="#2a2a2a">% PSLP</text>
<rect x="63.1" y="442.53" width="12" height="14.87" fill="#f7901e"/>
<rect x="79" y="453.08" width="12" height="4.32" fill="#17694f"/>
<rect x="108.1" y="408.57" width="12" height="48.83" fill="#f7901e"/>
<rect x="124.2" y="423.16" width="12" height="34.24" fill="#17694f"/>
<rect x="153.1" y="380.81" width="12" height="76.58" fill="#f7901e"/>
<rect x="169" y="406.13" width="12" height="51.27" fill="#17694f"/>
<line x1="69.1" y1="439.11" x2="69.1" y2="446.05" stroke="#1a1a1a" stroke-width="1"/>
<line x1="67.6" y1="439.11" x2="70.6" y2="439.11" stroke="#1a1a1a" stroke-width="1"/>
<line x1="67.6" y1="446.05" x2="70.6" y2="446.05" stroke="#1a1a1a" stroke-width="1"/>
<line x1="85" y1="450.64" x2="85" y2="455.06" stroke="#1a1a1a" stroke-width="1"/>
<line x1="83.5" y1="450.64" x2="86.5" y2="450.64" stroke="#1a1a1a" stroke-width="1"/>
<line x1="83.5" y1="455.06" x2="86.5" y2="455.06" stroke="#1a1a1a" stroke-width="1"/>
<line x1="114.1" y1="400.64" x2="114.1" y2="416.49" stroke="#1a1a1a" stroke-width="1"/>
<line x1="112.6" y1="400.64" x2="115.6" y2="400.64" stroke="#1a1a1a" stroke-width="1"/>
<line x1="112.6" y1="416.49" x2="115.6" y2="416.49" stroke="#1a1a1a" stroke-width="1"/>
<line x1="130.2" y1="414.6" x2="130.2" y2="431.72" stroke="#1a1a1a" stroke-width="1"/>
<line x1="128.7" y1="414.6" x2="131.7" y2="414.6" stroke="#1a1a1a" stroke-width="1"/>
<line x1="128.7" y1="431.72" x2="131.7" y2="431.72" stroke="#1a1a1a" stroke-width="1"/>
<line x1="159.1" y1="374.51" x2="159.1" y2="386.22" stroke="#1a1a1a" stroke-width="1"/>
<line x1="157.6" y1="374.51" x2="160.6" y2="374.51" stroke="#1a1a1a" stroke-width="1"/>
<line x1="157.6" y1="386.22" x2="160.6" y2="386.22" stroke="#1a1a1a" stroke-width="1"/>
<line x1="175" y1="400.64" x2="175" y2="412.35" stroke="#1a1a1a" stroke-width="1"/>
<line x1="173.5" y1="400.64" x2="176.5" y2="400.64" stroke="#1a1a1a" stroke-width="1"/>
<line x1="173.5" y1="412.35" x2="176.5" y2="412.35" stroke="#1a1a1a" stroke-width="1"/>
<text x="159.1" y="375" font-size="7.5" text-anchor="middle" font-weight="bold" fill="#333">*</text>
<text x="175" y="400.3" font-size="7.5" text-anchor="middle" font-weight="bold" fill="#333">*</text>
<line x1="77" y1="457.4" x2="77" y2="459.9" stroke="#1e1e1e" stroke-width="0.9"/>
<line x1="121.9" y1="457.4" x2="121.9" y2="459.9" stroke="#1e1e1e" stroke-width="0.9"/>
<line x1="167" y1="457.4" x2="167" y2="459.9" stroke="#1e1e1e" stroke-width="0.9"/>
<text x="77.5" y="470.8" font-size="8.1" text-anchor="middle" fill="#2a2a2a">PEV</text>
<text x="77.5" y="480.85" font-size="8.1" text-anchor="middle" fill="#2a2a2a">Ghosts</text>
<text x="122.2" y="470.8" font-size="8.1" text-anchor="middle" fill="#2a2a2a">Large/</text>
<text x="122.2" y="480.85" font-size="8.1" text-anchor="middle" fill="#2a2a2a">Dense</text>
<text x="122.2" y="490.9" font-size="8.1" text-anchor="middle" fill="#2a2a2a">PEVs</text>
<text x="166.5" y="470.8" font-size="8.1" text-anchor="middle" fill="#2a2a2a">DPLTs and</text>
<text x="166.5" y="480.85" font-size="8.1" text-anchor="middle" fill="#2a2a2a">Large/Dense</text>
<text x="166.5" y="490.9" font-size="8.1" text-anchor="middle" fill="#2a2a2a">PEVs</text>
<rect x="63.8" y="501.6" width="5.7" height="6" fill="#f7901e"/>
<text x="72.3" y="507.6" font-size="8.2" textLength="44.2" lengthAdjust="spacingAndGlyphs" fill="#2a2a2a">PS+CD41a+</text>
<rect x="125.2" y="501.6" width="5.7" height="6" fill="#17694f"/>
<text x="133.5" y="507.6" font-size="8.2" textLength="47.6" lengthAdjust="spacingAndGlyphs" fill="#2a2a2a">PS+CD62P+</text>
<line x1="245.4" y1="362.4" x2="245.4" y2="441.2" stroke="#1e1e1e" stroke-width="1"/>
<line x1="245.4" y1="441.2" x2="343.61" y2="441.2" stroke="#1e1e1e" stroke-width="1"/>
<line x1="242.4" y1="441.2" x2="245.4" y2="441.2" stroke="#1e1e1e" stroke-width="0.9"/>
<text x="238.8" y="444" font-size="8.4" text-anchor="end" fill="#2a2a2a" letter-spacing="0.15">0</text>
<line x1="242.4" y1="424.35" x2="245.4" y2="424.35" stroke="#1e1e1e" stroke-width="0.9"/>
<text x="238.8" y="427.15" font-size="8.4" text-anchor="end" fill="#2a2a2a" letter-spacing="0.15">150</text>
<line x1="242.4" y1="407.5" x2="245.4" y2="407.5" stroke="#1e1e1e" stroke-width="0.9"/>
<text x="238.8" y="410.3" font-size="8.4" text-anchor="end" fill="#2a2a2a" letter-spacing="0.15">300</text>
<line x1="242.4" y1="390.65" x2="245.4" y2="390.65" stroke="#1e1e1e" stroke-width="0.9"/>
<text x="238.8" y="393.45" font-size="8.4" text-anchor="end" fill="#2a2a2a" letter-spacing="0.15">450</text>
<line x1="242.4" y1="373.8" x2="245.4" y2="373.8" stroke="#1e1e1e" stroke-width="0.9"/>
<text x="238.8" y="376.6" font-size="8.4" text-anchor="end" fill="#2a2a2a" letter-spacing="0.15">600</text>
<line x1="245.4" y1="441.2" x2="245.4" y2="443.7" stroke="#1e1e1e" stroke-width="0.9"/>
<text x="245.4" y="455.2" font-size="8.4" text-anchor="middle" fill="#2a2a2a">0</text>
<line x1="261.5" y1="441.2" x2="261.5" y2="443.7" stroke="#1e1e1e" stroke-width="0.9"/>
<text x="261.5" y="455.2" font-size="8.4" text-anchor="middle" fill="#2a2a2a">20</text>
<line x1="277.6" y1="441.2" x2="277.6" y2="443.7" stroke="#1e1e1e" stroke-width="0.9"/>
<text x="277.6" y="455.2" font-size="8.4" text-anchor="middle" fill="#2a2a2a">40</text>
<line x1="293.7" y1="441.2" x2="293.7" y2="443.7" stroke="#1e1e1e" stroke-width="0.9"/>
<text x="293.7" y="455.2" font-size="8.4" text-anchor="middle" fill="#2a2a2a">60</text>
<line x1="309.8" y1="441.2" x2="309.8" y2="443.7" stroke="#1e1e1e" stroke-width="0.9"/>
<text x="309.8" y="455.2" font-size="8.4" text-anchor="middle" fill="#2a2a2a">80</text>
<line x1="325.9" y1="441.2" x2="325.9" y2="443.7" stroke="#1e1e1e" stroke-width="0.9"/>
<text x="325.9" y="455.2" font-size="8.4" text-anchor="middle" fill="#2a2a2a">100</text>
<line x1="342" y1="441.2" x2="342" y2="443.7" stroke="#1e1e1e" stroke-width="0.9"/>
<text x="342" y="455.2" font-size="8.4" text-anchor="middle" fill="#2a2a2a">120</text>
<text x="295" y="468.5" font-size="9.2" text-anchor="middle" textLength="33.5" lengthAdjust="spacingAndGlyphs" fill="#222" stroke="#222" stroke-width="0.25">Time (min)</text>
<text transform="translate(218.3,402) rotate(-90)" font-size="8.4" text-anchor="middle" textLength="65.5" lengthAdjust="spacingAndGlyphs" fill="#2a2a2a" stroke="#2a2a2a" stroke-width="0.2">Thrombin (RFU/min)</text>
<polyline points="245.4,441.2 245.8,441.19 246.21,441.2 246.61,441.17 247.01,441.2 247.41,441.2 247.81,441.2 248.22,441.2 248.62,441.2 249.02,441.16 249.43,441.17 249.83,441.16 250.23,441.2 250.63,441.2 251.03,441.08 251.44,441.12 251.84,441 252.24,441.08 252.65,441.2 253.05,441.06 253.45,441.13 253.85,441.17 254.25,441.2 254.66,441.2 255.06,441.2 255.46,441.07 255.87,441.18 256.27,440.96 256.67,441.2 257.07,441.12 257.48,441.12 257.88,441.2 258.28,441.2 258.68,441.01 259.08,441.1 259.49,441.2 259.89,441.12 260.29,441.2 260.69,441.15 261.1,441.2 261.5,441.16 261.9,440.97 262.31,441.2 262.71,440.99 263.11,441.2 263.51,441.2 263.92,441.2 264.32,441.2 264.72,441.18 265.12,441.03 265.52,440.83 265.93,440.14 266.33,439.89 266.73,440.19 267.13,438.99 267.54,439.4 267.94,438.62 268.34,437.18 268.75,435.83 269.15,434.95 269.55,433.58 269.95,431.04 270.36,429.04 270.76,426.76 271.16,424.02 271.56,421.65 271.97,420.01 272.37,417.99 272.77,416 273.17,414.17 273.57,412.19 273.98,410.72 274.38,408.36 274.78,406.97 275.19,405.31 275.59,404.1 275.99,402.89 276.39,401.44 276.8,401.1 277.2,400.66 277.6,399.88 278,399.91 278.41,398.19 278.81,398.78 279.21,399.33 279.61,400.41 280.01,400.08 280.42,400.42 280.82,401.64 281.22,403.22" fill="none" stroke="#3fb6d9" stroke-width="1" stroke-linejoin="round"/>
<polyline points="280.82,401.64 281.22,403.22 281.62,405.69 282.03,403.07 282.43,405.52 282.83,406.77 283.24,404.64 283.64,405.97 284.04,409.44 284.44,407.69 284.85,408.52 285.25,406.58 285.65,412.87 286.05,410.35 286.45,410.38 286.86,407.75 287.26,413.36 287.66,417.66 288.06,415.03 288.47,412.01 288.87,411.23 289.27,409.68 289.68,412.72 290.08,415.51 290.48,412.4 290.88,414.55 291.29,415.27 291.69,415.16 292.09,412.91 292.49,417.6 292.89,418.06 293.3,416.3 293.7,416.51 294.1,418.25 294.5,418.59 294.91,416.21 295.31,414.44 295.71,415.93 296.12,416.2 296.52,415.17 296.92,422 297.32,421.15 297.73,419.62 298.13,420.77 298.53,420.49 298.93,418.43 299.34,421.38 299.74,419.77 300.14,423.24 300.54,421.19 300.94,416.58 301.35,420.75 301.75,419.16 302.15,418.59 302.56,421.32 302.96,419.31 303.36,420.3 303.76,419.51 304.17,422.53 304.57,424.44 304.97,423.8 305.37,423.04 305.78,420.98 306.18,422.75 306.58,423.38 306.98,423.13 307.38,420.65 307.79,424.41 308.19,420.22 308.59,426.22 309,425.1 309.4,422.25 309.8,423.18 310.2,426.31 310.61,424.95 311.01,426.44 311.41,423.34 311.81,424.22 312.22,427.1 312.62,424.88 313.02,426.65 313.42,426.17 313.82,426.02 314.23,427.5 314.63,425.53 315.03,425.6 315.44,425.81 315.84,424.5 316.24,427.59 316.64,430.33 317.05,428.35 317.45,427.01 317.85,427.5 318.25,426.4 318.66,426 319.06,428.09 319.46,428.16 319.86,430.15 320.26,425.88 320.67,428.78 321.07,430.64 321.47,430.81 321.88,429.39 322.28,425.21 322.68,427 323.08,432.45 323.49,429.13 323.89,428.38 324.29,427.69 324.69,428.39 325.1,430.63 325.5,428.43 325.9,430.63 326.3,434.41 326.71,431.16 327.11,431.2 327.51,427.7 327.91,427.54 328.31,432.21 328.72,429.6 329.12,429.86 329.52,433.28 329.93,434.7 330.33,430.46 330.73,430.02 331.13,431.7 331.54,436.44 331.94,430.59 332.34,431.87 332.74,432.63 333.14,431.45 333.55,433.3 333.95,429.63 334.35,430.88 334.75,432.18 335.16,430.36 335.56,431.09 335.96,434.44 336.37,431.42 336.77,432.16 337.17,435.06 337.57,432.67 337.98,430.31 338.38,432.68 338.78,428.19 339.18,427.58 339.59,432.1 339.99,430.22 340.39,427.03 340.79,432.28 341.19,433.59 341.6,432.56 342,434.74" fill="none" stroke="#3fb6d9" stroke-width="1.4" stroke-linejoin="round"/>
<polyline points="245.4,441.2 245.8,441.2 246.21,441.2 246.61,441.2 247.01,441.11 247.41,441.2 247.81,441.12 248.22,441.07 248.62,441.2 249.02,441.2 249.43,441.13 249.83,441 250.23,440.81 250.63,441.03 251.03,440.87 251.44,441.2 251.84,441.2 252.24,441.2 252.65,441.2 253.05,441.2 253.45,441.14 253.85,441.2 254.25,440.93 254.66,441.2 255.06,441.2 255.46,441.15 255.87,439.74 256.27,440.12 256.67,440.23 257.07,439.76 257.48,438.02 257.88,438.6 258.28,437.26 258.68,436 259.08,436.77 259.49,433.75 259.89,433.45 260.29,432.44 260.69,430.65 261.1,428.52 261.5,426.82 261.9,424.98 262.31,423.89 262.71,420.47 263.11,416.83 263.51,413.11 263.92,410.18 264.32,406.05 264.72,402.4 265.12,399.91 265.52,396.28 265.93,394.08 266.33,391.68 266.73,389.01 267.13,388.66 267.54,385.12 267.94,382.03 268.34,381.81 268.75,379.58 269.15,375.42 269.55,376.26 269.95,374.23 270.36,372.55 270.76,372.49 271.16,372 271.56,371.72 271.97,372.33 272.37,373.19 272.77,373.03 273.17,372.14 273.57,374.38 273.98,373.6 274.38,375.45 274.78,376.09 275.19,377.41 275.59,379.59 275.99,379.62 276.39,380.79 276.8,383.82 277.2,382.14 277.6,383.4 278,384.72 278.41,387.17 278.81,391.5 279.21,385.96 279.61,389.4 280.01,393.84 280.42,389.98 280.82,393.21 281.22,391.68 281.62,394.04 282.03,392.78 282.43,395.36 282.83,396.24 283.24,397.63 283.64,396.88 284.04,402.64 284.44,399.38 284.85,401.46 285.25,404.91 285.65,405.09 286.05,407.07 286.45,407.34 286.86,406.91 287.26,410.86 287.66,409.27 288.06,409.91 288.47,411.47 288.87,410.7 289.27,414.48 289.68,413.88 290.08,411.41 290.48,416.68 290.88,417.79 291.29,418.32 291.69,418.05 292.09,421.06 292.49,420.79 292.89,423.89 293.3,422.91 293.7,423.18 294.1,423.76 294.5,422.76 294.91,420.98 295.31,423.29 295.71,425.35 296.12,422.78 296.52,423.11 296.92,426.23 297.32,423.55 297.73,426.02 298.13,425.41 298.53,425.8 298.93,423.1 299.34,426.37 299.74,425.63 300.14,424.89 300.54,423.51 300.94,423.43 301.35,427.74 301.75,423.82 302.15,425.57 302.56,423.99 302.96,424.35 303.36,427.42 303.76,426.44 304.17,427.16 304.57,426 304.97,423.68 305.37,426.79 305.78,428.24 306.18,422.3 306.58,429.06 306.98,427.27 307.38,427.4 307.79,429.87 308.19,426.06 308.59,425.64 309,427.91 309.4,427.74 309.8,428.25 310.2,431.37 310.61,427.62 311.01,430.52 311.41,430.04 311.81,427.52 312.22,426.58 312.62,430.07 313.02,426.3 313.42,425.17 313.82,428.29 314.23,428.83 314.63,428.36 315.03,429.59 315.44,430.53 315.84,427.71 316.24,427.63 316.64,430.05 317.05,429.93 317.45,430.42 317.85,430.64 318.25,431.22 318.66,432.33 319.06,427.74 319.46,430.23 319.86,429.49 320.26,426.22 320.67,430.7 321.07,428.71 321.47,432.52 321.88,431.18 322.28,428.66 322.68,430.57 323.08,432.89 323.49,433.14 323.89,429.55 324.29,432.07 324.69,428.98 325.1,429.82 325.5,431.03 325.9,430.58 326.3,429.03 326.71,430.48 327.11,432.44 327.51,429.99 327.91,431.38 328.31,431.18 328.72,429.67 329.12,430.19 329.52,428.89 329.93,431.28 330.33,431.86 330.73,431.68 331.13,430.32 331.54,432.68 331.94,431.85 332.34,432.84 332.74,432.75 333.14,431.63 333.55,426.59 333.95,432.11 334.35,430.9 334.75,431.26 335.16,431.83 335.56,431.47 335.96,427.73 336.37,432.13 336.77,428.51 337.17,430.43 337.57,433.45 337.98,433.06 338.38,432.73 338.78,434.01 339.18,429.66 339.59,431.15 339.99,430.96 340.39,434.07 340.79,431.17 341.19,433.19 341.6,427.38 342,432.4" fill="none" stroke="#e0288a" stroke-width="1.7" stroke-linejoin="round"/>
<polyline points="245.4,441.01 245.8,440.96 246.21,440.88 246.61,441.2 247.01,440.37 247.41,441.12 247.81,439.86 248.22,439.8 248.62,439.54 249.02,439.37 249.43,439.4 249.83,439.63 250.23,439.45 250.63,438.64 251.03,439.37 251.44,439.14 251.84,439.25 252.24,439.35 252.65,439.46 253.05,439.41 253.45,439.83 253.85,440.04 254.25,440.35 254.66,440.18 255.06,440.96 255.46,440.47 255.87,440.04 256.27,440.43 256.67,439.54 257.07,437.64 257.48,438.86 257.88,437.34 258.28,434.95 258.68,432.04 259.08,430.09 259.49,429.44 259.89,426.31 260.29,424.35 260.69,422.4 261.1,420.85 261.5,417.08 261.9,415.81 262.31,413.06 262.71,411.04 263.11,407.94 263.51,403.74 263.92,399.82 264.32,394.16 264.72,388.62 265.12,385.1 265.52,379.75 265.93,377.11 266.33,376.07 266.73,373.61 267.13,371.77 267.54,369.02 267.94,368.59 268.34,366.03 268.75,365.63 269.15,364.71 269.55,366.13 269.95,365.87 270.36,367.6 270.76,369.45 271.16,367.58 271.56,368.8 271.97,367.86 272.37,372.38 272.77,374.3 273.17,377.11 273.57,382.62 273.98,379.77 274.38,377.98 274.78,382.13 275.19,387.07 275.59,382.55 275.99,386.57 276.39,387.72 276.8,389.49 277.2,390.47 277.6,390.71 278,397.4 278.41,395.54 278.81,397.86" fill="none" stroke="#9a90d0" stroke-width="0.9" stroke-linejoin="round"/>
<polyline points="277.6,390.71 278,397.4 278.41,395.54 278.81,397.86 279.21,395.36 279.61,402.49 280.01,397.07 280.42,401.35 280.82,400.1 281.22,408.25 281.62,405.51 282.03,408.1 282.43,414.88 282.83,412.25 283.24,414 283.64,416.83 284.04,417.27 284.44,420.64 284.85,418.41 285.25,416.66 285.65,421.24 286.05,424.68 286.45,415.9 286.86,421.61 287.26,420.78 287.66,422.34 288.06,424.06 288.47,420.38 288.87,424.92 289.27,423.35 289.68,429.14 290.08,430.3 290.48,426.21 290.88,418.3 291.29,425.04 291.69,419.1 292.09,424.95 292.49,425.14 292.89,429.13 293.3,427.28 293.7,420.84 294.1,423.26 294.5,430.1 294.91,429.72 295.31,423.29 295.71,430.29 296.12,425.22 296.52,432.15 296.92,426.69 297.32,423.58 297.73,426.32 298.13,428.58 298.53,429.03 298.93,429.94 299.34,429.78 299.74,425.4 300.14,425.56 300.54,428.4 300.94,434.67 301.35,432 301.75,429.03 302.15,430.02 302.56,435.33 302.96,427.88 303.36,420.72 303.76,435.09 304.17,430.33 304.57,424.58 304.97,432.28 305.37,432.32 305.78,430.23 306.18,428.76 306.58,432.46 306.98,427.26 307.38,438.15 307.79,428.52 308.19,429.63 308.59,431.65 309,429.61 309.4,430.92 309.8,426.09 310.2,432.9 310.61,431.34 311.01,436.47 311.41,435.51 311.81,432.18 312.22,437.21 312.62,434.54 313.02,436.39 313.42,433.25 313.82,430.94 314.23,427.81 314.63,438.87 315.03,432.24 315.44,428.18 315.84,426.23 316.24,426.15 316.64,437.08 317.05,433.57 317.45,429.45 317.85,428.04 318.25,430.58 318.66,430.66 319.06,430.78 319.46,434.69 319.86,431.12 320.26,428.62 320.67,433.1 321.07,427.25 321.47,441.2 321.88,433.11 322.28,425.25 322.68,428.48 323.08,426.27 323.49,431.34 323.89,436.54 324.29,433.94 324.69,426.02 325.1,439.17 325.5,435.74 325.9,438.74 326.3,434.14 326.71,433.72 327.11,429.81 327.51,435.34 327.91,425.38 328.31,429.59 328.72,434.01 329.12,436.08 329.52,438.1 329.93,431.73 330.33,424.41 330.73,432.91 331.13,436.36 331.54,432.55 331.94,434.4 332.34,435.97 332.74,439.94 333.14,432.67 333.55,426.56 333.95,427.61 334.35,428.61 334.75,431.72 335.16,430.7 335.56,428.57 335.96,432.85 336.37,431.54 336.77,434.29 337.17,428.18 337.57,436.46 337.98,430.04 338.38,429.37 338.78,429.47 339.18,430 339.59,434.76 339.99,435.19 340.39,434.61 340.79,434.49 341.19,437.55 341.6,434.84 342,435.64" fill="none" stroke="#9a90d0" stroke-width="1.5" stroke-linejoin="round"/>
<line x1="406.7" y1="363.5" x2="406.7" y2="441.4" stroke="#1e1e1e" stroke-width="1"/>
<line x1="406.7" y1="441.4" x2="504.91" y2="441.4" stroke="#1e1e1e" stroke-width="1"/>
<line x1="403.7" y1="441.4" x2="406.7" y2="441.4" stroke="#1e1e1e" stroke-width="0.9"/>
<text x="400.1" y="444.2" font-size="8.4" text-anchor="end" fill="#2a2a2a" letter-spacing="0.15">0</text>
<line x1="403.7" y1="424.5" x2="406.7" y2="424.5" stroke="#1e1e1e" stroke-width="0.9"/>
<text x="400.1" y="427.3" font-size="8.4" text-anchor="end" fill="#2a2a2a" letter-spacing="0.15">150</text>
<line x1="403.7" y1="407.6" x2="406.7" y2="407.6" stroke="#1e1e1e" stroke-width="0.9"/>
<text x="400.1" y="410.4" font-size="8.4" text-anchor="end" fill="#2a2a2a" letter-spacing="0.15">300</text>
<line x1="403.7" y1="390.7" x2="406.7" y2="390.7" stroke="#1e1e1e" stroke-width="0.9"/>
<text x="400.1" y="393.5" font-size="8.4" text-anchor="end" fill="#2a2a2a" letter-spacing="0.15">450</text>
<line x1="403.7" y1="373.8" x2="406.7" y2="373.8" stroke="#1e1e1e" stroke-width="0.9"/>
<text x="400.1" y="376.6" font-size="8.4" text-anchor="end" fill="#2a2a2a" letter-spacing="0.15">600</text>
<line x1="406.7" y1="441.4" x2="406.7" y2="443.9" stroke="#1e1e1e" stroke-width="0.9"/>
<text x="406.7" y="455.4" font-size="8.4" text-anchor="middle" fill="#2a2a2a">0</text>
<line x1="422.8" y1="441.4" x2="422.8" y2="443.9" stroke="#1e1e1e" stroke-width="0.9"/>
<text x="422.8" y="455.4" font-size="8.4" text-anchor="middle" fill="#2a2a2a">20</text>
<line x1="438.9" y1="441.4" x2="438.9" y2="443.9" stroke="#1e1e1e" stroke-width="0.9"/>
<text x="438.9" y="455.4" font-size="8.4" text-anchor="middle" fill="#2a2a2a">40</text>
<line x1="455" y1="441.4" x2="455" y2="443.9" stroke="#1e1e1e" stroke-width="0.9"/>
<text x="455" y="455.4" font-size="8.4" text-anchor="middle" fill="#2a2a2a">60</text>
<line x1="471.1" y1="441.4" x2="471.1" y2="443.9" stroke="#1e1e1e" stroke-width="0.9"/>
<text x="471.1" y="455.4" font-size="8.4" text-anchor="middle" fill="#2a2a2a">80</text>
<line x1="487.2" y1="441.4" x2="487.2" y2="443.9" stroke="#1e1e1e" stroke-width="0.9"/>
<text x="487.2" y="455.4" font-size="8.4" text-anchor="middle" fill="#2a2a2a">100</text>
<line x1="503.3" y1="441.4" x2="503.3" y2="443.9" stroke="#1e1e1e" stroke-width="0.9"/>
<text x="503.3" y="455.4" font-size="8.4" text-anchor="middle" fill="#2a2a2a">120</text>
<text x="456.3" y="468.7" font-size="9.2" text-anchor="middle" textLength="33.5" lengthAdjust="spacingAndGlyphs" fill="#222" stroke="#222" stroke-width="0.25">Time (min)</text>
<text transform="translate(379.6,402.2) rotate(-90)" font-size="8.4" text-anchor="middle" textLength="65.5" lengthAdjust="spacingAndGlyphs" fill="#2a2a2a" stroke="#2a2a2a" stroke-width="0.2">Thrombin (RFU/min)</text>
<polyline points="406.7,441.4 407.02,441.4 407.34,441.4 407.67,441.4 407.99,441.4 408.31,441.4 408.63,441.4 408.95,441.4 409.28,441.4 409.6,441.4 409.92,441.4 410.24,441.4 410.56,441.4 410.89,441.4 411.21,441.4 411.53,441.4 411.85,441.4 412.17,441.4 412.5,441.4 412.82,441.4 413.14,441.4 413.46,441.4 413.78,441.4 414.11,441.4 414.43,441.4 414.75,441.4 415.07,441.4 415.39,441.4 415.72,441.4 416.04,441.4 416.36,441.4 416.68,441.4 417,441.4 417.33,441.4 417.65,441.4 417.97,441.4 418.29,441.4 418.61,441.4 418.94,441.4 419.26,441.4 419.58,441.4 419.9,441.4 420.22,441.4 420.55,441.4 420.87,441.4 421.19,441.4 421.51,441.4 421.83,441.4 422.16,441.4 422.48,441.4 422.8,441.4 423.12,441.4 423.44,441.4 423.77,441.4 424.09,441.4 424.41,441.4 424.73,441.4 425.05,441.4 425.38,441.4 425.7,441.4 426.02,441.4 426.34,441.4 426.66,441.4 426.99,441.4 427.31,441.4 427.63,441.4 427.95,441.4 428.27,441.4 428.6,441.4 428.92,441.4 429.24,441.4 429.56,441.4 429.88,441.4 430.21,441.4 430.53,441.4 430.85,441.4 431.17,441.4 431.49,441.4 431.82,441.4 432.14,441.4 432.46,441.4 432.78,441.4 433.1,441.4 433.43,441.4 433.75,441.4 434.07,441.4 434.39,441.4 434.71,441.4 435.04,441.4 435.36,441.4 435.68,441.4 436,441.4 436.32,441.4 436.65,441.4 436.97,441.4 437.29,441.4 437.61,441.4 437.93,441.4 438.26,441.4 438.58,441.4 438.9,441.4 439.22,441.4 439.54,441.4 439.87,441.4 440.19,441.4 440.51,441.4 440.83,441.4 441.15,441.4 441.48,441.4 441.8,441.4 442.12,441.4 442.44,441.4 442.76,441.4 443.09,441.4 443.41,441.4 443.73,441.4 444.05,441.4 444.37,441.4 444.7,441.4 445.02,441.4 445.34,441.4 445.66,441.4 445.98,441.4 446.31,441.4 446.63,441.4 446.95,441.4 447.27,441.4 447.59,441.4 447.92,441.4 448.24,441.4 448.56,441.4 448.88,441.4 449.2,441.4 449.53,441.4 449.85,441.4 450.17,441.4 450.49,441.4 450.81,441.4 451.14,441.4 451.46,441.4 451.78,441.4 452.1,441.4 452.42,441.4 452.75,441.4 453.07,441.4 453.39,441.4 453.71,441.4 454.03,441.4 454.36,441.4 454.68,441.4 455,441.4 455.32,441.4 455.64,441.4 455.97,441.38 456.29,441.4 456.61,441.33 456.93,441.39 457.25,441.4 457.58,441.21 457.9,441.28 458.22,441.03 458.54,441.04 458.86,441.4 459.19,441.4 459.51,440.98 459.83,441 460.15,441.21 460.47,440.65 460.8,440.01 461.12,440.03 461.44,440.32 461.76,439.68 462.08,439.16 462.41,439.28 462.73,438.3 463.05,438.93 463.37,437.57 463.69,437.37 464.02,437.27 464.34,436.88 464.66,436.46 464.98,436.4 465.3,434.99 465.63,434.28 465.95,433.9 466.27,433.56 466.59,433.05 466.91,433.02 467.24,432.27 467.56,432.11 467.88,430.43 468.2,430.61 468.52,429.04 468.85,429.29 469.17,427.52 469.49,426.84 469.81,426.27 470.13,425.93 470.46,426.2 470.78,425.65 471.1,425.34 471.42,424.2 471.74,422.89 472.07,423.9 472.39,421.54 472.71,422.89 473.03,422.89 473.35,421.71 473.68,420.96 474,421.43 474.32,421.47 474.64,419.74 474.96,421.17 475.29,419.82 475.61,420.12 475.93,420.24 476.25,419.83 476.57,420.33 476.9,420.24 477.22,419.33 477.54,419.98 477.86,419.73 478.18,418.37 478.51,418.07 478.83,418.35 479.15,418.36 479.47,418.98 479.79,418.77 480.12,419.21 480.44,420.35 480.76,418.63 481.08,418.59 481.4,418.13 481.73,419.33 482.05,418.04 482.37,419.06 482.69,419.53 483.01,419.05 483.34,418.46 483.66,419.07 483.98,418.89 484.3,419.71 484.62,419.02 484.95,418.83 485.27,420 485.59,419.39 485.91,420.5 486.23,419.74 486.56,420.83 486.88,419.88 487.2,420.23 487.52,421 487.84,420.32 488.17,421.22 488.49,420.76 488.81,421.47 489.13,420.8 489.45,421.57 489.78,420.59 490.1,421.29 490.42,421.39 490.74,422.61 491.06,423.2 491.39,422.64 491.71,421.34 492.03,423.06 492.35,422.01 492.67,422.16 493,423.37 493.32,423.32 493.64,422.64 493.96,423.68 494.28,423.92 494.61,424.17 494.93,423.96 495.25,424.22 495.57,423.63 495.89,424.34 496.22,423.97 496.54,424.85 496.86,423.54 497.18,425.16 497.5,425.33 497.83,425.84 498.15,426.49 498.47,426.17 498.79,425.71 499.11,426.53 499.44,425.65 499.76,427.18 500.08,427.35 500.4,426.45 500.72,426.6 501.05,427.66 501.37,426.62 501.69,426.65 502.01,427.43 502.33,428.55 502.66,427.33 502.98,428.4 503.3,428.54 503.62,428.31 503.94,429.11 504.27,428.01 504.59,429.34 504.91,428.53 505.23,428.84" fill="none" stroke="#e0288a" stroke-width="1.7" stroke-linejoin="round"/>
<polyline points="406.7,441.22 407.1,441.14 407.5,441.11 407.91,441.28 408.31,441.09 408.71,441.15 409.12,441.09 409.52,441.14 409.92,441.04 410.32,441.28 410.72,440.97 411.13,441.04 411.53,441.24 411.93,441.1 412.33,441.12 412.74,441.37 413.14,441.11 413.54,441.24 413.94,441.2 414.35,441.24 414.75,441.22 415.15,441.17 415.56,441.16 415.96,441.35 416.36,441.2 416.76,441.33 417.16,441.32 417.57,441.21 417.97,441.08 418.37,441.1 418.77,441.24 419.18,441.25 419.58,441.27 419.98,441.16 420.38,441.07 420.79,441.17 421.19,441.1 421.59,441.14 422,441.01 422.4,441.4 422.8,441.4 423.2,441.2 423.61,441.1 424.01,441.22 424.41,441.13 424.81,441.31 425.21,441.32 425.62,441.26 426.02,441.08 426.42,441.1 426.82,441.26 427.23,441.15 427.63,441.25 428.03,441.17 428.44,441.3 428.84,441.18 429.24,441.26 429.64,441.18 430.05,441.25 430.45,441.27 430.85,441.16 431.25,441.21 431.65,441.17 432.06,441.22 432.46,441.11 432.86,441.27 433.26,441.09 433.67,441.02 434.07,441.2 434.47,440.98 434.88,440.95 435.28,441.12 435.68,441.33 436.08,441.36 436.49,441.19 436.89,440.97 437.29,441.11 437.69,441.09 438.09,441.2 438.5,441.26 438.9,441.13 439.3,441.3 439.7,441.2 440.11,441.12 440.51,441.17 440.91,441.12 441.31,441.22 441.72,441.11 442.12,441.13 442.52,441.36 442.93,441.29 443.33,441.26 443.73,441.1 444.13,441.14 444.53,441.14 444.94,441.16 445.34,441.1 445.74,441.07 446.14,441.24 446.55,441.35 446.95,441.1 447.35,441.2 447.75,441.17 448.16,441.19 448.56,441.3 448.96,441.34 449.37,441.07 449.77,441.05 450.17,441.07 450.57,441.15 450.98,441.14 451.38,441.22 451.78,441.17 452.18,441.22 452.58,441.24 452.99,441.15 453.39,440.98 453.79,441.39 454.19,441.11 454.6,441.1 455,441.31 455.4,441.14 455.81,441.16 456.21,441.23 456.61,441.23 457.01,441.33 457.41,440.98 457.82,440.91 458.22,441 458.62,441.21 459.02,441.14 459.43,441.13 459.83,441.27 460.23,441.2 460.63,441.11 461.04,441.22 461.44,441.37 461.84,441.32 462.25,441.15 462.65,441.21 463.05,441.21 463.45,441.02 463.86,441.17 464.26,441.26 464.66,441.18 465.06,440.93 465.46,441.3 465.87,440.97 466.27,441.01 466.67,441.19 467.07,441.21 467.48,441.01 467.88,441.15 468.28,441.23 468.69,440.97 469.09,441.16 469.49,441.14 469.89,441.17 470.3,441.21 470.7,441.16 471.1,441.22 471.5,441.12 471.9,441.06 472.31,441.05 472.71,441.04 473.11,441.01 473.51,441.09 473.92,441.24 474.32,441.07 474.72,441.36 475.12,441.26 475.53,441.14 475.93,441.36 476.33,441.01 476.74,441.29 477.14,441.34 477.54,441.26 477.94,441.26 478.35,441.18 478.75,441.19 479.15,441.06 479.55,441.19 479.95,441.15 480.36,441.29 480.76,441.12 481.16,441.26 481.56,441.39 481.97,441.03 482.37,441.29 482.77,441.3 483.18,441.27 483.58,441.1 483.98,441.35 484.38,441.22 484.78,441.11 485.19,440.96 485.59,441.21 485.99,441.17 486.39,441.27 486.8,440.95 487.2,441.19 487.6,441.18 488,441.16 488.41,441.28 488.81,441.18 489.21,441.32 489.62,441.01 490.02,441.19 490.42,441.19 490.82,441.04 491.23,441.31 491.63,441.02 492.03,441 492.43,441.26 492.83,441.1 493.24,441.19 493.64,441.08 494.04,441.17 494.44,441.28 494.85,441.1 495.25,441.2 495.65,441.15 496.06,441.06 496.46,441.04 496.86,441.1 497.26,441.33 497.66,441.1 498.07,441.21 498.47,441.05 498.87,441.2 499.27,441.01 499.68,441.12 500.08,441.17 500.48,441.14 500.88,441.37 501.29,441.11 501.69,441.16 502.09,441.3 502.5,441.13 502.9,441.14 503.3,441.13 503.7,441.19 504.11,441.09 504.51,441.08 504.91,441.16" fill="none" stroke="#3fb6d9" stroke-width="1" stroke-linejoin="round"/>
<polyline points="406.7,440.97 407.1,440.89 407.5,440.96 407.91,440.69 408.31,440.87 408.71,441.02 409.12,440.12 409.52,440.28 409.92,440.74 410.32,440.4 410.72,440.19 411.13,439.91 411.53,439.64 411.93,439.81 412.33,439.92 412.74,439.66 413.14,439.76 413.54,439.61 413.94,439.75 414.35,439.98 414.75,439.53 415.15,440.01 415.56,440.02 415.96,440.3 416.36,440.4 416.76,440.47 417.16,440.35 417.57,440.32 417.97,440.56 418.37,440.91 418.77,440.24 419.18,440.78 419.58,440.85 419.98,441.19 420.38,441.12 420.79,440.92 421.19,441.4 421.59,441.24 422,440.97 422.4,440.52 422.8,440.97 423.2,441.3 423.61,441.34 424.01,440.84 424.41,441.24 424.81,441.14 425.21,440.62 425.62,441.05 426.02,441.14 426.42,441.24 426.82,440.76 427.23,440.76 427.63,441.21 428.03,441.38 428.44,441.09 428.84,440.75 429.24,440.96 429.64,441.34 430.05,440.99 430.45,440.89 430.85,441.07 431.25,441.02 431.65,441.06 432.06,441.18 432.46,441.21 432.86,441.37 433.26,441.33 433.67,441.4 434.07,440.96 434.47,440.95 434.88,441.05 435.28,440.97 435.68,441.05 436.08,441.24 436.49,441.02 436.89,441.14 437.29,441.11 437.69,441.4 438.09,441.19 438.5,440.98 438.9,441.15 439.3,441.26 439.7,441.4 440.11,441.22 440.51,440.75 440.91,441.21 441.31,440.83 441.72,441.18 442.12,440.83 442.52,441.19 442.93,440.98 443.33,440.92 443.73,440.93 444.13,441.28 444.53,441.15 444.94,441.26 445.34,441.1 445.74,441.14 446.14,441.12 446.55,440.93 446.95,441.3 447.35,441.24 447.75,441.2 448.16,441.12 448.56,441.25 448.96,440.95 449.37,441.31 449.77,440.66 450.17,441.05 450.57,440.8 450.98,441.31 451.38,441.13 451.78,441.03 452.18,440.66 452.58,441.03 452.99,440.72 453.39,441.22 453.79,440.72 454.19,441.21 454.6,441.4 455,441.4 455.4,441.01 455.81,441.1 456.21,441 456.61,441.07 457.01,440.95 457.41,440.69 457.82,441.1 458.22,440.99 458.62,441.14 459.02,441.4 459.43,441.12 459.83,440.72 460.23,441.24 460.63,440.53 461.04,440.92 461.44,440.95 461.84,440.84 462.25,441.05 462.65,441.04 463.05,440.75 463.45,441.21 463.86,441.08 464.26,441.31 464.66,441.02 465.06,440.36 465.46,440.78 465.87,441.26 466.27,441.4 466.67,440.92 467.07,440.89 467.48,441.18 467.88,440.74 468.28,440.95 468.69,440.88 469.09,440.87 469.49,440.79 469.89,441.14 470.3,441.2 470.7,440.73 471.1,441.07 471.5,441.32 471.9,440.96 472.31,441.15 472.71,440.97 473.11,440.33 473.51,440.64 473.92,441.14 474.32,441.31 474.72,441.04 475.12,441.25 475.53,440.98 475.93,440.97 476.33,440.89 476.74,441.04 477.14,441.35 477.54,441.07 477.94,441.02 478.35,440.99 478.75,440.77 479.15,441.27 479.55,441.07 479.95,441.17 480.36,441.23 480.76,440.9 481.16,441.18 481.56,440.61 481.97,441.4 482.37,440.71 482.77,441.1 483.18,441.32 483.58,441.01 483.98,441.02 484.38,440.83 484.78,440.76 485.19,441.22 485.59,441.05 485.99,440.97 486.39,441 486.8,441.12 487.2,440.74 487.6,440.98 488,441.35 488.41,440.99 488.81,441.1 489.21,441.11 489.62,440.86 490.02,440.9 490.42,440.98 490.82,440.95 491.23,440.85 491.63,441.19 492.03,441.03 492.43,440.76 492.83,441.18 493.24,441.15 493.64,441.19 494.04,440.82 494.44,441.16 494.85,440.81 495.25,441.15 495.65,441.01 496.06,440.98 496.46,441.17 496.86,441.28 497.26,440.84 497.66,441.15 498.07,440.94 498.47,440.91 498.87,441.38 499.27,440.78 499.68,441.03 500.08,441.13 500.48,441.14 500.88,441.17 501.29,441 501.69,440.59 502.09,441.08 502.5,441.31 502.9,441.11 503.3,440.58 503.7,441.04 504.11,440.62 504.51,441.23 504.91,441.23" fill="none" stroke="#9a90d0" stroke-width="1.2" stroke-linejoin="round"/>
<line x1="407.2" y1="440.6" x2="504.91" y2="440.6" stroke="#6058b8" stroke-width="1"/>
<line x1="237.5" y1="478.8" x2="253.8" y2="478.8" stroke="#3fb6d9" stroke-width="1.6"/>
<text x="257" y="481.2" font-size="7.6" fill="#333">Ghost</text>
<line x1="237.5" y1="490.4" x2="253.8" y2="490.4" stroke="#e0288a" stroke-width="1.6"/>
<text x="257" y="492.8" font-size="7.6" fill="#333">Dense PEVs</text>
<line x1="237.5" y1="502" x2="253.8" y2="502" stroke="#a8a4c8" stroke-width="1.6"/>
<text x="257" y="504.4" font-size="7.6" textLength="95" lengthAdjust="spacingAndGlyphs" fill="#333">DPLTs + Large/Dense PEVs</text>
<line x1="398.3" y1="478.8" x2="414.6" y2="478.8" stroke="#3fb6d9" stroke-width="1.6"/>
<text x="417.8" y="481.2" font-size="7.6" fill="#333">Ghost</text>
<line x1="398.3" y1="490.4" x2="414.6" y2="490.4" stroke="#e0288a" stroke-width="1.6"/>
<text x="417.8" y="492.8" font-size="7.6" fill="#333">Dense PEVs</text>
<line x1="398.3" y1="502" x2="414.6" y2="502" stroke="#a8a4c8" stroke-width="1.6"/>
<text x="417.8" y="504.4" font-size="7.6" textLength="95" lengthAdjust="spacingAndGlyphs" fill="#333">DPLTs + Large/Dense PEVs</text>
</svg></body></html>
